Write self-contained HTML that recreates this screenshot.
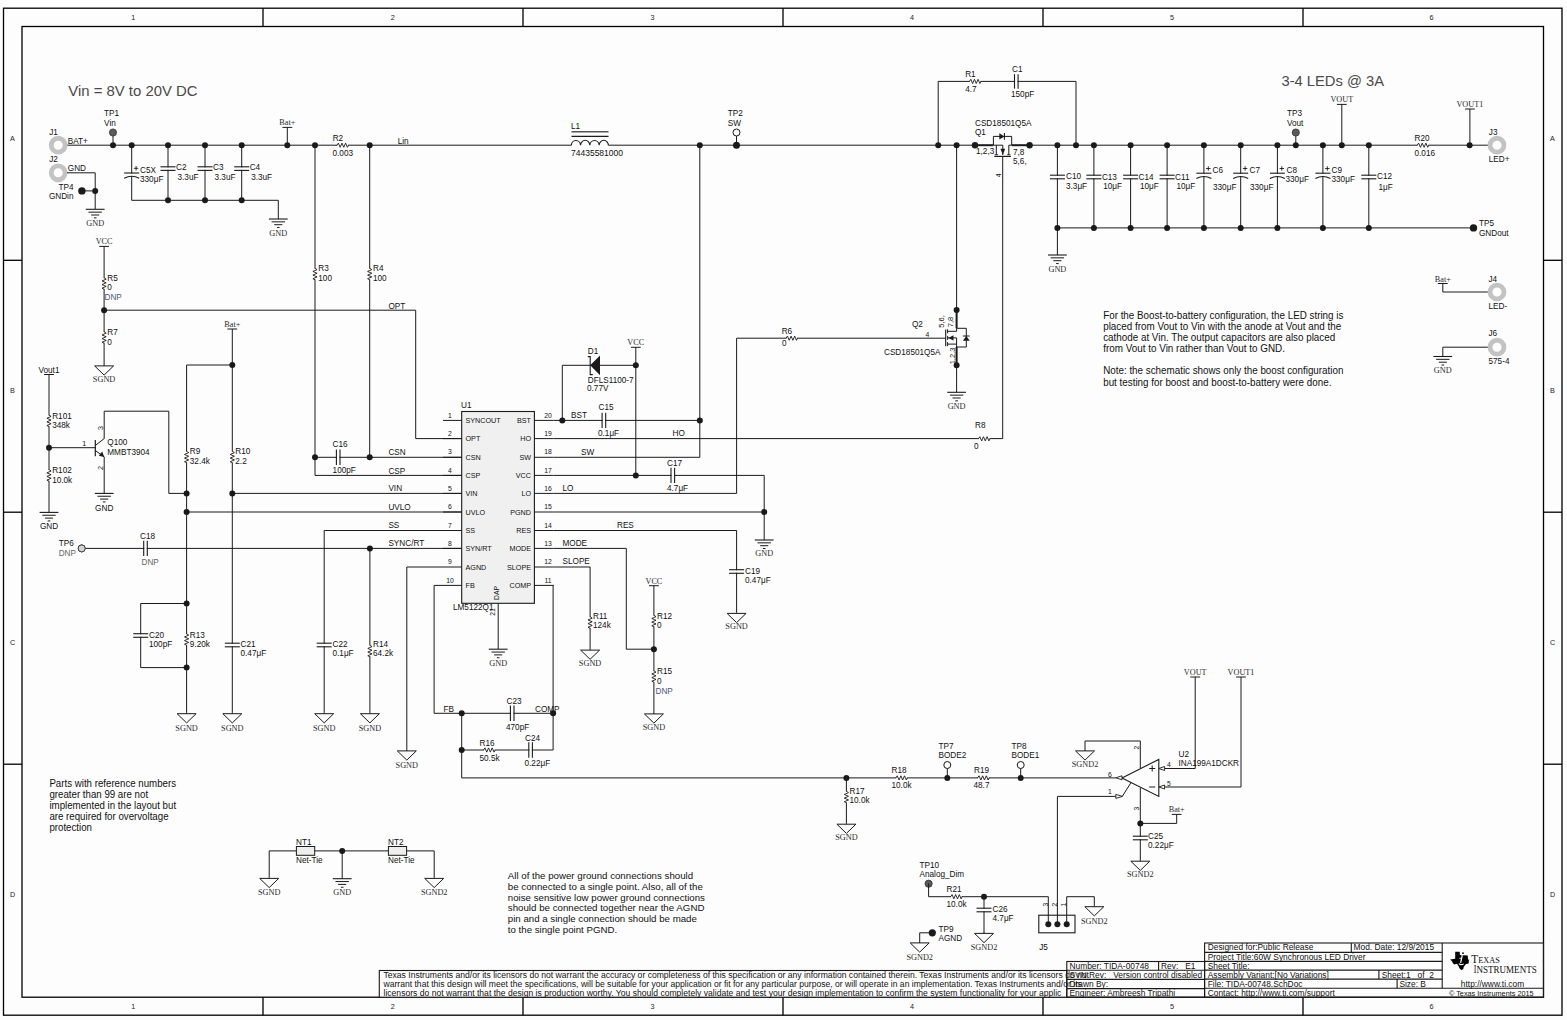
<!DOCTYPE html>
<html><head><meta charset="utf-8"><style>
html,body{margin:0;padding:0;background:#fdfdfd;width:1567px;height:1020px;overflow:hidden}
svg{display:block}
</style></head><body><svg width="1567" height="1020" viewBox="0 0 1567 1020"><rect x="3.5" y="8.2" width="1558.5" height="1007" fill="none" stroke="#000" stroke-width="1.3"/>
<rect x="22" y="26.5" width="1521.5" height="970.7" fill="none" stroke="#000" stroke-width="1.3"/>
<line x1="263" y1="8.2" x2="263" y2="26.5" stroke="#000" stroke-width="1.3"/>
<line x1="263" y1="997.2" x2="263" y2="1015.2" stroke="#000" stroke-width="1.3"/>
<line x1="523" y1="8.2" x2="523" y2="26.5" stroke="#000" stroke-width="1.3"/>
<line x1="523" y1="997.2" x2="523" y2="1015.2" stroke="#000" stroke-width="1.3"/>
<line x1="783" y1="8.2" x2="783" y2="26.5" stroke="#000" stroke-width="1.3"/>
<line x1="783" y1="997.2" x2="783" y2="1015.2" stroke="#000" stroke-width="1.3"/>
<line x1="1043" y1="8.2" x2="1043" y2="26.5" stroke="#000" stroke-width="1.3"/>
<line x1="1043" y1="997.2" x2="1043" y2="1015.2" stroke="#000" stroke-width="1.3"/>
<line x1="1303" y1="8.2" x2="1303" y2="26.5" stroke="#000" stroke-width="1.3"/>
<line x1="1303" y1="997.2" x2="1303" y2="1015.2" stroke="#000" stroke-width="1.3"/>
<line x1="3.5" y1="260.3" x2="22" y2="260.3" stroke="#000" stroke-width="1.3"/>
<line x1="1543.5" y1="260.3" x2="1562" y2="260.3" stroke="#000" stroke-width="1.3"/>
<line x1="3.5" y1="512.2" x2="22" y2="512.2" stroke="#000" stroke-width="1.3"/>
<line x1="1543.5" y1="512.2" x2="1562" y2="512.2" stroke="#000" stroke-width="1.3"/>
<line x1="3.5" y1="764.2" x2="22" y2="764.2" stroke="#000" stroke-width="1.3"/>
<line x1="1543.5" y1="764.2" x2="1562" y2="764.2" stroke="#000" stroke-width="1.3"/>
<text x="133.3" y="19.86" font-size="7.2" text-anchor="middle" fill="#222" font-family='"Liberation Sans", sans-serif' style="white-space:pre">1</text>
<text x="133.3" y="1008.76" font-size="7.2" text-anchor="middle" fill="#222" font-family='"Liberation Sans", sans-serif' style="white-space:pre">1</text>
<text x="392.7" y="19.86" font-size="7.2" text-anchor="middle" fill="#222" font-family='"Liberation Sans", sans-serif' style="white-space:pre">2</text>
<text x="392.7" y="1008.76" font-size="7.2" text-anchor="middle" fill="#222" font-family='"Liberation Sans", sans-serif' style="white-space:pre">2</text>
<text x="652.5" y="19.86" font-size="7.2" text-anchor="middle" fill="#222" font-family='"Liberation Sans", sans-serif' style="white-space:pre">3</text>
<text x="652.5" y="1008.76" font-size="7.2" text-anchor="middle" fill="#222" font-family='"Liberation Sans", sans-serif' style="white-space:pre">3</text>
<text x="912" y="19.86" font-size="7.2" text-anchor="middle" fill="#222" font-family='"Liberation Sans", sans-serif' style="white-space:pre">4</text>
<text x="912" y="1008.76" font-size="7.2" text-anchor="middle" fill="#222" font-family='"Liberation Sans", sans-serif' style="white-space:pre">4</text>
<text x="1172" y="19.86" font-size="7.2" text-anchor="middle" fill="#222" font-family='"Liberation Sans", sans-serif' style="white-space:pre">5</text>
<text x="1172" y="1008.76" font-size="7.2" text-anchor="middle" fill="#222" font-family='"Liberation Sans", sans-serif' style="white-space:pre">5</text>
<text x="1431.5" y="19.86" font-size="7.2" text-anchor="middle" fill="#222" font-family='"Liberation Sans", sans-serif' style="white-space:pre">6</text>
<text x="1431.5" y="1008.76" font-size="7.2" text-anchor="middle" fill="#222" font-family='"Liberation Sans", sans-serif' style="white-space:pre">6</text>
<text x="12.5" y="141.06" font-size="7.2" text-anchor="middle" fill="#222" font-family='"Liberation Sans", sans-serif' style="white-space:pre">A</text>
<text x="1552.5" y="141.06" font-size="7.2" text-anchor="middle" fill="#222" font-family='"Liberation Sans", sans-serif' style="white-space:pre">A</text>
<text x="12.5" y="393.06" font-size="7.2" text-anchor="middle" fill="#222" font-family='"Liberation Sans", sans-serif' style="white-space:pre">B</text>
<text x="1552.5" y="393.06" font-size="7.2" text-anchor="middle" fill="#222" font-family='"Liberation Sans", sans-serif' style="white-space:pre">B</text>
<text x="12.5" y="645.06" font-size="7.2" text-anchor="middle" fill="#222" font-family='"Liberation Sans", sans-serif' style="white-space:pre">C</text>
<text x="1552.5" y="645.06" font-size="7.2" text-anchor="middle" fill="#222" font-family='"Liberation Sans", sans-serif' style="white-space:pre">C</text>
<text x="12.5" y="897.06" font-size="7.2" text-anchor="middle" fill="#222" font-family='"Liberation Sans", sans-serif' style="white-space:pre">D</text>
<text x="1552.5" y="897.06" font-size="7.2" text-anchor="middle" fill="#222" font-family='"Liberation Sans", sans-serif' style="white-space:pre">D</text>
<line x1="67" y1="145.2" x2="571.3" y2="145.2" stroke="#1a1a1a" stroke-width="1"/>
<line x1="608.4" y1="145.2" x2="938.2" y2="145.2" stroke="#1a1a1a" stroke-width="1"/>
<line x1="938.2" y1="145.2" x2="975" y2="145.2" stroke="#1a1a1a" stroke-width="1"/>
<circle cx="58.2" cy="145.2" r="6.95" fill="none" stroke="#c3c3c3" stroke-width="4.8"/>
<circle cx="58.2" cy="172.8" r="6.95" fill="none" stroke="#c3c3c3" stroke-width="4.8"/>
<text x="49.2" y="134.91" font-size="8.2" text-anchor="start" fill="#111" font-family='"Liberation Sans", sans-serif' style="white-space:pre">J1</text>
<text x="67.8" y="144.31" font-size="8.2" text-anchor="start" fill="#111" font-family='"Liberation Sans", sans-serif' style="white-space:pre">BAT+</text>
<text x="49.2" y="162.41" font-size="8.2" text-anchor="start" fill="#111" font-family='"Liberation Sans", sans-serif' style="white-space:pre">J2</text>
<text x="67.8" y="171.11" font-size="8.2" text-anchor="start" fill="#111" font-family='"Liberation Sans", sans-serif' style="white-space:pre">GND</text>
<polyline points="67,172.8 95.2,172.8 95.2,209.3" fill="none" stroke="#1a1a1a" stroke-width="1" stroke-linejoin="miter"/>
<circle cx="95.2" cy="190.9" r="3" fill="#1a1a1a"/>
<line x1="82" y1="190.9" x2="95.2" y2="190.9" stroke="#1a1a1a" stroke-width="1"/>
<circle cx="81.9" cy="190.9" r="3.7" fill="#1a1a1a"/>
<text x="73.5" y="189.71" font-size="8.2" text-anchor="end" fill="#111" font-family='"Liberation Sans", sans-serif' style="white-space:pre">TP4</text>
<text x="73.5" y="198.91" font-size="8.2" text-anchor="end" fill="#111" font-family='"Liberation Sans", sans-serif' style="white-space:pre">GNDin</text>
<line x1="85.8" y1="209.3" x2="104.6" y2="209.3" stroke="#1a1a1a" stroke-width="1.1"/>
<line x1="88.5" y1="212.15" x2="101.9" y2="212.15" stroke="#1a1a1a" stroke-width="1"/>
<line x1="91.15" y1="215" x2="99.25" y2="215" stroke="#1a1a1a" stroke-width="1"/>
<line x1="93.9" y1="217.85" x2="96.5" y2="217.85" stroke="#1a1a1a" stroke-width="1"/>
<text x="95.2" y="225.93" font-size="8.25" text-anchor="middle" fill="#2a2a2a" font-family='"Liberation Serif", serif' style="white-space:pre">GND</text>
<line x1="113" y1="132.5" x2="113" y2="145.2" stroke="#1a1a1a" stroke-width="1"/>
<circle cx="113" cy="132.5" r="3.6" fill="#5a5a5a" stroke="#333" stroke-width="0.8"/>
<circle cx="113" cy="145.2" r="3" fill="#1a1a1a"/>
<text x="104.1" y="116.21" font-size="8.2" text-anchor="start" fill="#111" font-family='"Liberation Sans", sans-serif' style="white-space:pre">TP1</text>
<text x="104.1" y="126.21" font-size="8.2" text-anchor="start" fill="#111" font-family='"Liberation Sans", sans-serif' style="white-space:pre">Vin</text>
<circle cx="131.7" cy="145.2" r="3" fill="#1a1a1a"/>
<circle cx="168" cy="145.2" r="3" fill="#1a1a1a"/>
<circle cx="205" cy="145.2" r="3" fill="#1a1a1a"/>
<circle cx="241.7" cy="145.2" r="3" fill="#1a1a1a"/>
<line x1="131.7" y1="145.2" x2="131.7" y2="200.3" stroke="#1a1a1a" stroke-width="1"/>
<polyline points="131.7,200.3 278.3,200.3 278.3,219" fill="none" stroke="#1a1a1a" stroke-width="1" stroke-linejoin="miter"/>
<rect x="130.2" y="173.7" width="3" height="2.6" fill="#fdfdfd"/>
<line x1="124.2" y1="173" x2="139.2" y2="173" stroke="#1a1a1a" stroke-width="1.1"/>
<path d="M124.2,178.3 Q131.7,174.3 139.2,178.3" fill="none" stroke="#1a1a1a" stroke-width="1.1"/>
<line x1="133.9" y1="168.3" x2="138.3" y2="168.3" stroke="#1a1a1a" stroke-width="0.9"/>
<line x1="136.1" y1="166.1" x2="136.1" y2="170.5" stroke="#1a1a1a" stroke-width="0.9"/>
<text x="140" y="173.41" font-size="8.2" text-anchor="start" fill="#111" font-family='"Liberation Sans", sans-serif' style="white-space:pre">C5X</text>
<text x="140" y="182.41" font-size="8.2" text-anchor="start" fill="#111" font-family='"Liberation Sans", sans-serif' style="white-space:pre">330μF</text>
<line x1="168" y1="145.2" x2="168" y2="200.3" stroke="#1a1a1a" stroke-width="1"/>
<rect x="166.5" y="167.4" width="3" height="2.4" fill="#fdfdfd"/>
<line x1="160.5" y1="166.8" x2="175.5" y2="166.8" stroke="#1a1a1a" stroke-width="1.1"/>
<line x1="160.5" y1="170.4" x2="175.5" y2="170.4" stroke="#1a1a1a" stroke-width="1.1"/>
<circle cx="168" cy="200.3" r="3" fill="#1a1a1a"/>
<text x="176" y="170.21" font-size="8.2" text-anchor="start" fill="#111" font-family='"Liberation Sans", sans-serif' style="white-space:pre">C2</text>
<text x="177.5" y="180.21" font-size="8.2" text-anchor="start" fill="#111" font-family='"Liberation Sans", sans-serif' style="white-space:pre">3.3uF</text>
<line x1="205" y1="145.2" x2="205" y2="200.3" stroke="#1a1a1a" stroke-width="1"/>
<rect x="203.5" y="167.4" width="3" height="2.4" fill="#fdfdfd"/>
<line x1="197.5" y1="166.8" x2="212.5" y2="166.8" stroke="#1a1a1a" stroke-width="1.1"/>
<line x1="197.5" y1="170.4" x2="212.5" y2="170.4" stroke="#1a1a1a" stroke-width="1.1"/>
<circle cx="205" cy="200.3" r="3" fill="#1a1a1a"/>
<text x="213" y="170.21" font-size="8.2" text-anchor="start" fill="#111" font-family='"Liberation Sans", sans-serif' style="white-space:pre">C3</text>
<text x="214.5" y="180.21" font-size="8.2" text-anchor="start" fill="#111" font-family='"Liberation Sans", sans-serif' style="white-space:pre">3.3uF</text>
<line x1="241.7" y1="145.2" x2="241.7" y2="200.3" stroke="#1a1a1a" stroke-width="1"/>
<rect x="240.2" y="167.4" width="3" height="2.4" fill="#fdfdfd"/>
<line x1="234.2" y1="166.8" x2="249.2" y2="166.8" stroke="#1a1a1a" stroke-width="1.1"/>
<line x1="234.2" y1="170.4" x2="249.2" y2="170.4" stroke="#1a1a1a" stroke-width="1.1"/>
<circle cx="241.7" cy="200.3" r="3" fill="#1a1a1a"/>
<text x="249.7" y="170.21" font-size="8.2" text-anchor="start" fill="#111" font-family='"Liberation Sans", sans-serif' style="white-space:pre">C4</text>
<text x="251.2" y="180.21" font-size="8.2" text-anchor="start" fill="#111" font-family='"Liberation Sans", sans-serif' style="white-space:pre">3.3uF</text>
<line x1="268.9" y1="219" x2="287.7" y2="219" stroke="#1a1a1a" stroke-width="1.1"/>
<line x1="271.6" y1="221.85" x2="285" y2="221.85" stroke="#1a1a1a" stroke-width="1"/>
<line x1="274.25" y1="224.7" x2="282.35" y2="224.7" stroke="#1a1a1a" stroke-width="1"/>
<line x1="277" y1="227.55" x2="279.6" y2="227.55" stroke="#1a1a1a" stroke-width="1"/>
<text x="278.3" y="235.93" font-size="8.25" text-anchor="middle" fill="#2a2a2a" font-family='"Liberation Serif", serif' style="white-space:pre">GND</text>
<line x1="287.3" y1="127.4" x2="287.3" y2="145.2" stroke="#1a1a1a" stroke-width="1"/>
<line x1="282.4" y1="127.4" x2="292.2" y2="127.4" stroke="#1a1a1a" stroke-width="1"/>
<text x="287.3" y="125.45" font-size="8.8" text-anchor="middle" fill="#2a2a2a" font-family='"Liberation Serif", serif' style="white-space:pre" textLength="16.01" lengthAdjust="spacingAndGlyphs">Bat+</text>
<circle cx="287.3" cy="145.2" r="3" fill="#1a1a1a"/>
<circle cx="315" cy="145.2" r="3" fill="#1a1a1a"/>
<circle cx="369.7" cy="145.2" r="3" fill="#1a1a1a"/>
<rect x="337.35" y="143.6" width="10.7" height="3.2" fill="#fdfdfd"/>
<polyline points="336.95,145.2 338.33,143.1 340.15,147.3 341.96,143.1 343.78,147.3 345.6,143.1 347.41,147.3 348.45,145.2" fill="none" stroke="#1a1a1a" stroke-width="0.9" stroke-linejoin="round"/>
<text x="332.7" y="140.61" font-size="8.2" text-anchor="start" fill="#111" font-family='"Liberation Sans", sans-serif' style="white-space:pre">R2</text>
<text x="332.5" y="155.91" font-size="8.2" text-anchor="start" fill="#111" font-family='"Liberation Sans", sans-serif' style="white-space:pre">0.003</text>
<text x="397.7" y="143.91" font-size="8.2" text-anchor="start" fill="#111" font-family='"Liberation Sans", sans-serif' style="white-space:pre">Lin</text>
<line x1="315" y1="145.2" x2="315" y2="475.4" stroke="#1a1a1a" stroke-width="1"/>
<line x1="369.7" y1="145.2" x2="369.7" y2="457.3" stroke="#1a1a1a" stroke-width="1"/>
<rect x="313.4" y="268.65" width="3.2" height="10.7" fill="#fdfdfd"/>
<polyline points="315,268.25 317.1,269.63 312.9,271.45 317.1,273.26 312.9,275.08 317.1,276.9 312.9,278.71 315,279.75" fill="none" stroke="#1a1a1a" stroke-width="0.9" stroke-linejoin="round"/>
<rect x="368.1" y="268.65" width="3.2" height="10.7" fill="#fdfdfd"/>
<polyline points="369.7,268.25 371.8,269.63 367.6,271.45 371.8,273.26 367.6,275.08 371.8,276.9 367.6,278.71 369.7,279.75" fill="none" stroke="#1a1a1a" stroke-width="0.9" stroke-linejoin="round"/>
<text x="318.3" y="270.91" font-size="8.2" text-anchor="start" fill="#111" font-family='"Liberation Sans", sans-serif' style="white-space:pre">R3</text>
<text x="318.3" y="280.61" font-size="8.2" text-anchor="start" fill="#111" font-family='"Liberation Sans", sans-serif' style="white-space:pre">100</text>
<text x="373" y="270.91" font-size="8.2" text-anchor="start" fill="#111" font-family='"Liberation Sans", sans-serif' style="white-space:pre">R4</text>
<text x="373" y="280.61" font-size="8.2" text-anchor="start" fill="#111" font-family='"Liberation Sans", sans-serif' style="white-space:pre">100</text>
<circle cx="315" cy="457.3" r="3" fill="#1a1a1a"/>
<circle cx="369.7" cy="457.3" r="3" fill="#1a1a1a"/>
<line x1="315" y1="457.3" x2="369.7" y2="457.3" stroke="#1a1a1a" stroke-width="1"/>
<rect x="337" y="455.8" width="2.4" height="3" fill="#fdfdfd"/>
<line x1="336.4" y1="449.6" x2="336.4" y2="465" stroke="#1a1a1a" stroke-width="1.1"/>
<line x1="340" y1="449.6" x2="340" y2="465" stroke="#1a1a1a" stroke-width="1.1"/>
<text x="332.6" y="446.91" font-size="8.2" text-anchor="start" fill="#111" font-family='"Liberation Sans", sans-serif' style="white-space:pre">C16</text>
<text x="332.6" y="472.91" font-size="8.2" text-anchor="start" fill="#111" font-family='"Liberation Sans", sans-serif' style="white-space:pre">100pF</text>
<line x1="369.7" y1="457.3" x2="461.7" y2="457.3" stroke="#1a1a1a" stroke-width="1"/>
<line x1="315" y1="475.4" x2="461.7" y2="475.4" stroke="#1a1a1a" stroke-width="1"/>
<line x1="104.1" y1="246.4" x2="104.1" y2="365" stroke="#1a1a1a" stroke-width="1"/>
<line x1="99.2" y1="246.4" x2="109" y2="246.4" stroke="#1a1a1a" stroke-width="1"/>
<text x="104.1" y="244.45" font-size="8.8" text-anchor="middle" fill="#2a2a2a" font-family='"Liberation Serif", serif' style="white-space:pre" textLength="16.86" lengthAdjust="spacingAndGlyphs">VCC</text>
<rect x="102.5" y="278.15" width="3.2" height="10.7" fill="#fdfdfd"/>
<polyline points="104.1,277.75 106.2,279.13 102,280.95 106.2,282.76 102,284.58 106.2,286.4 102,288.21 104.1,289.25" fill="none" stroke="#1a1a1a" stroke-width="0.9" stroke-linejoin="round"/>
<text x="107.3" y="281.21" font-size="8.2" text-anchor="start" fill="#111" font-family='"Liberation Sans", sans-serif' style="white-space:pre">R5</text>
<text x="107.3" y="290.41" font-size="8.2" text-anchor="start" fill="#111" font-family='"Liberation Sans", sans-serif' style="white-space:pre">0</text>
<text x="104.5" y="299.91" font-size="8.2" text-anchor="start" fill="#4a5a7a" font-family='"Liberation Sans", sans-serif' style="white-space:pre">DNP</text>
<circle cx="104.1" cy="310.2" r="3" fill="#1a1a1a"/>
<polyline points="104.1,310.2 415.7,310.2 415.7,438.6 461.7,438.6" fill="none" stroke="#1a1a1a" stroke-width="1" stroke-linejoin="miter"/>
<rect x="102.5" y="332.15" width="3.2" height="10.7" fill="#fdfdfd"/>
<polyline points="104.1,331.75 106.2,333.13 102,334.95 106.2,336.76 102,338.58 106.2,340.4 102,342.21 104.1,343.25" fill="none" stroke="#1a1a1a" stroke-width="0.9" stroke-linejoin="round"/>
<text x="107.3" y="335.11" font-size="8.2" text-anchor="start" fill="#111" font-family='"Liberation Sans", sans-serif' style="white-space:pre">R7</text>
<text x="107.3" y="345.11" font-size="8.2" text-anchor="start" fill="#111" font-family='"Liberation Sans", sans-serif' style="white-space:pre">0</text>
<line x1="104.1" y1="365" x2="104.1" y2="366" stroke="#1a1a1a" stroke-width="1"/>
<polygon points="94.6,365.9 113.6,365.9 104.1,375.1" fill="none" stroke="#1a1a1a" stroke-width="1"/>
<text x="104.1" y="381.93" font-size="8.25" text-anchor="middle" fill="#2a2a2a" font-family='"Liberation Serif", serif' style="white-space:pre">SGND</text>
<text x="388.4" y="308.91" font-size="8.2" text-anchor="start" fill="#111" font-family='"Liberation Sans", sans-serif' style="white-space:pre">OPT</text>
<line x1="49" y1="374.5" x2="49" y2="512.4" stroke="#1a1a1a" stroke-width="1"/>
<line x1="44.1" y1="374.5" x2="53.9" y2="374.5" stroke="#1a1a1a" stroke-width="1"/>
<text x="49" y="372.6" font-size="8.2" text-anchor="middle" fill="#111" font-family='"Liberation Sans", sans-serif' style="white-space:pre" textLength="20.91" lengthAdjust="spacingAndGlyphs">Vout1</text>
<rect x="47.4" y="415.45" width="3.2" height="10.7" fill="#fdfdfd"/>
<polyline points="49,415.05 51.1,416.43 46.9,418.25 51.1,420.06 46.9,421.88 51.1,423.7 46.9,425.51 49,426.55" fill="none" stroke="#1a1a1a" stroke-width="0.9" stroke-linejoin="round"/>
<text x="52.2" y="418.91" font-size="8.2" text-anchor="start" fill="#111" font-family='"Liberation Sans", sans-serif' style="white-space:pre">R101</text>
<text x="52.2" y="428.41" font-size="8.2" text-anchor="start" fill="#111" font-family='"Liberation Sans", sans-serif' style="white-space:pre">348k</text>
<circle cx="49" cy="447.7" r="3" fill="#1a1a1a"/>
<line x1="49" y1="447.7" x2="95.3" y2="447.7" stroke="#1a1a1a" stroke-width="1"/>
<text x="82.3" y="446.06" font-size="7.2" text-anchor="start" fill="#111" font-family='"Liberation Sans", sans-serif' style="white-space:pre">1</text>
<rect x="47.4" y="470.05" width="3.2" height="10.7" fill="#fdfdfd"/>
<polyline points="49,469.65 51.1,471.03 46.9,472.85 51.1,474.66 46.9,476.48 51.1,478.3 46.9,480.11 49,481.15" fill="none" stroke="#1a1a1a" stroke-width="0.9" stroke-linejoin="round"/>
<text x="52.2" y="473.41" font-size="8.2" text-anchor="start" fill="#111" font-family='"Liberation Sans", sans-serif' style="white-space:pre">R102</text>
<text x="52.2" y="482.91" font-size="8.2" text-anchor="start" fill="#111" font-family='"Liberation Sans", sans-serif' style="white-space:pre">10.0k</text>
<line x1="39.6" y1="512.4" x2="58.4" y2="512.4" stroke="#1a1a1a" stroke-width="1.1"/>
<line x1="42.3" y1="515.25" x2="55.7" y2="515.25" stroke="#1a1a1a" stroke-width="1"/>
<line x1="44.95" y1="518.1" x2="53.05" y2="518.1" stroke="#1a1a1a" stroke-width="1"/>
<line x1="47.7" y1="520.95" x2="50.3" y2="520.95" stroke="#1a1a1a" stroke-width="1"/>
<text x="49" y="528.91" font-size="8.2" text-anchor="middle" fill="#111" font-family='"Liberation Sans", sans-serif' style="white-space:pre">GND</text>
<line x1="95.3" y1="440" x2="95.3" y2="456.2" stroke="#1a1a1a" stroke-width="1.2"/>
<polyline points="95.3,445.5 104.2,438.6 104.2,411.2 168.8,411.2 168.8,493.4 186.6,493.4" fill="none" stroke="#1a1a1a" stroke-width="1" stroke-linejoin="miter"/>
<polyline points="95.3,450.5 104.2,456.9 104.2,493.4" fill="none" stroke="#1a1a1a" stroke-width="1" stroke-linejoin="miter"/>
<polygon points="104.2,456.9 98.8,455.8 102.2,451.6" fill="#1a1a1a"/>
<text x="100" y="430.56" font-size="7.2" text-anchor="middle" fill="#111" font-family='"Liberation Sans", sans-serif' style="white-space:pre" transform="rotate(-90 100 428)">3</text>
<text x="100" y="470.56" font-size="7.2" text-anchor="middle" fill="#111" font-family='"Liberation Sans", sans-serif' style="white-space:pre" transform="rotate(-90 100 468)">2</text>
<text x="107.3" y="445.21" font-size="8.2" text-anchor="start" fill="#111" font-family='"Liberation Sans", sans-serif' style="white-space:pre">Q100</text>
<text x="107.3" y="454.91" font-size="8.2" text-anchor="start" fill="#111" font-family='"Liberation Sans", sans-serif' style="white-space:pre">MMBT3904</text>
<line x1="94.8" y1="493.4" x2="113.6" y2="493.4" stroke="#1a1a1a" stroke-width="1.1"/>
<line x1="97.5" y1="496.25" x2="110.9" y2="496.25" stroke="#1a1a1a" stroke-width="1"/>
<line x1="100.15" y1="499.1" x2="108.25" y2="499.1" stroke="#1a1a1a" stroke-width="1"/>
<line x1="102.9" y1="501.95" x2="105.5" y2="501.95" stroke="#1a1a1a" stroke-width="1"/>
<text x="104.2" y="510.91" font-size="8.2" text-anchor="middle" fill="#111" font-family='"Liberation Sans", sans-serif' style="white-space:pre">GND</text>
<line x1="227.4" y1="329" x2="237.2" y2="329" stroke="#1a1a1a" stroke-width="1"/>
<text x="232.3" y="327.05" font-size="8.8" text-anchor="middle" fill="#2a2a2a" font-family='"Liberation Serif", serif' style="white-space:pre" textLength="16.01" lengthAdjust="spacingAndGlyphs">Bat+</text>
<line x1="232.3" y1="329" x2="232.3" y2="712.8" stroke="#1a1a1a" stroke-width="1"/>
<circle cx="232.3" cy="365" r="3" fill="#1a1a1a"/>
<polyline points="232.3,365 186.6,365 186.6,712.8" fill="none" stroke="#1a1a1a" stroke-width="1" stroke-linejoin="miter"/>
<rect x="185" y="451.65" width="3.2" height="10.7" fill="#fdfdfd"/>
<polyline points="186.6,451.25 188.7,452.63 184.5,454.45 188.7,456.26 184.5,458.08 188.7,459.9 184.5,461.71 186.6,462.75" fill="none" stroke="#1a1a1a" stroke-width="0.9" stroke-linejoin="round"/>
<rect x="230.7" y="451.65" width="3.2" height="10.7" fill="#fdfdfd"/>
<polyline points="232.3,451.25 234.4,452.63 230.2,454.45 234.4,456.26 230.2,458.08 234.4,459.9 230.2,461.71 232.3,462.75" fill="none" stroke="#1a1a1a" stroke-width="0.9" stroke-linejoin="round"/>
<text x="189.8" y="454.41" font-size="8.2" text-anchor="start" fill="#111" font-family='"Liberation Sans", sans-serif' style="white-space:pre">R9</text>
<text x="189.8" y="463.91" font-size="8.2" text-anchor="start" fill="#111" font-family='"Liberation Sans", sans-serif' style="white-space:pre">32.4k</text>
<text x="235.3" y="454.41" font-size="8.2" text-anchor="start" fill="#111" font-family='"Liberation Sans", sans-serif' style="white-space:pre">R10</text>
<text x="235.3" y="463.91" font-size="8.2" text-anchor="start" fill="#111" font-family='"Liberation Sans", sans-serif' style="white-space:pre">2.2</text>
<circle cx="186.6" cy="493.4" r="3" fill="#1a1a1a"/>
<circle cx="232.3" cy="493.4" r="3" fill="#1a1a1a"/>
<circle cx="186.6" cy="512" r="3" fill="#1a1a1a"/>
<line x1="232.3" y1="493.4" x2="461.7" y2="493.4" stroke="#1a1a1a" stroke-width="1"/>
<line x1="186.6" y1="512" x2="461.7" y2="512" stroke="#1a1a1a" stroke-width="1"/>
<text x="388.4" y="491.41" font-size="8.2" text-anchor="start" fill="#111" font-family='"Liberation Sans", sans-serif' style="white-space:pre">VIN</text>
<text x="388.4" y="509.91" font-size="8.2" text-anchor="start" fill="#111" font-family='"Liberation Sans", sans-serif' style="white-space:pre">UVLO</text>
<text x="388.4" y="473.61" font-size="8.2" text-anchor="start" fill="#111" font-family='"Liberation Sans", sans-serif' style="white-space:pre">CSP</text>
<text x="388.4" y="454.61" font-size="8.2" text-anchor="start" fill="#111" font-family='"Liberation Sans", sans-serif' style="white-space:pre">CSN</text>
<polyline points="324.2,712.8 324.2,530.5 461.7,530.5" fill="none" stroke="#1a1a1a" stroke-width="1" stroke-linejoin="miter"/>
<text x="388.4" y="528.41" font-size="8.2" text-anchor="start" fill="#111" font-family='"Liberation Sans", sans-serif' style="white-space:pre">SS</text>
<line x1="85.3" y1="548.4" x2="461.7" y2="548.4" stroke="#1a1a1a" stroke-width="1"/>
<circle cx="81.7" cy="548.4" r="3.5" fill="#fdfdfd" stroke="#1a1a1a" stroke-width="1"/>
<circle cx="81.7" cy="548.4" r="3.5" fill="#d4d4d4" stroke="#333" stroke-width="0.9"/>
<text x="58.7" y="546.41" font-size="8.2" text-anchor="start" fill="#111" font-family='"Liberation Sans", sans-serif' style="white-space:pre">TP6</text>
<text x="58.7" y="555.91" font-size="8.2" text-anchor="start" fill="#666" font-family='"Liberation Sans", sans-serif' style="white-space:pre">DNP</text>
<rect x="144.3" y="546.9" width="2.4" height="3" fill="#fdfdfd"/>
<line x1="143.7" y1="540.7" x2="143.7" y2="556.1" stroke="#1a1a1a" stroke-width="1.1"/>
<line x1="147.3" y1="540.7" x2="147.3" y2="556.1" stroke="#1a1a1a" stroke-width="1.1"/>
<text x="140" y="539.41" font-size="8.2" text-anchor="start" fill="#111" font-family='"Liberation Sans", sans-serif' style="white-space:pre">C18</text>
<text x="141.5" y="564.91" font-size="8.2" text-anchor="start" fill="#666" font-family='"Liberation Sans", sans-serif' style="white-space:pre">DNP</text>
<circle cx="369.9" cy="548.4" r="3" fill="#1a1a1a"/>
<line x1="369.9" y1="548.4" x2="369.9" y2="712.8" stroke="#1a1a1a" stroke-width="1"/>
<text x="388.4" y="546.41" font-size="8.2" text-anchor="start" fill="#111" font-family='"Liberation Sans", sans-serif' style="white-space:pre">SYNC/RT</text>
<circle cx="186.6" cy="603.5" r="3" fill="#1a1a1a"/>
<circle cx="186.6" cy="667.6" r="3" fill="#1a1a1a"/>
<polyline points="186.6,603.5 140.7,603.5 140.7,667.6 186.6,667.6" fill="none" stroke="#1a1a1a" stroke-width="1" stroke-linejoin="miter"/>
<rect x="139.2" y="634.3" width="3" height="2.4" fill="#fdfdfd"/>
<line x1="133.2" y1="633.7" x2="148.2" y2="633.7" stroke="#1a1a1a" stroke-width="1.1"/>
<line x1="133.2" y1="637.3" x2="148.2" y2="637.3" stroke="#1a1a1a" stroke-width="1.1"/>
<text x="149" y="638.21" font-size="8.2" text-anchor="start" fill="#111" font-family='"Liberation Sans", sans-serif' style="white-space:pre">C20</text>
<text x="149" y="647.21" font-size="8.2" text-anchor="start" fill="#111" font-family='"Liberation Sans", sans-serif' style="white-space:pre">100pF</text>
<rect x="185" y="634.15" width="3.2" height="10.7" fill="#fdfdfd"/>
<polyline points="186.6,633.75 188.7,635.13 184.5,636.95 188.7,638.76 184.5,640.58 188.7,642.4 184.5,644.22 186.6,645.25" fill="none" stroke="#1a1a1a" stroke-width="0.9" stroke-linejoin="round"/>
<text x="189.8" y="638.21" font-size="8.2" text-anchor="start" fill="#111" font-family='"Liberation Sans", sans-serif' style="white-space:pre">R13</text>
<text x="189.8" y="647.21" font-size="8.2" text-anchor="start" fill="#111" font-family='"Liberation Sans", sans-serif' style="white-space:pre">9.20k</text>
<rect x="230.8" y="643.8" width="3" height="2.4" fill="#fdfdfd"/>
<line x1="224.8" y1="643.2" x2="239.8" y2="643.2" stroke="#1a1a1a" stroke-width="1.1"/>
<line x1="224.8" y1="646.8" x2="239.8" y2="646.8" stroke="#1a1a1a" stroke-width="1.1"/>
<text x="240.5" y="647.21" font-size="8.2" text-anchor="start" fill="#111" font-family='"Liberation Sans", sans-serif' style="white-space:pre">C21</text>
<text x="240.5" y="656.21" font-size="8.2" text-anchor="start" fill="#111" font-family='"Liberation Sans", sans-serif' style="white-space:pre">0.47μF</text>
<rect x="322.7" y="643.8" width="3" height="2.4" fill="#fdfdfd"/>
<line x1="316.7" y1="643.2" x2="331.7" y2="643.2" stroke="#1a1a1a" stroke-width="1.1"/>
<line x1="316.7" y1="646.8" x2="331.7" y2="646.8" stroke="#1a1a1a" stroke-width="1.1"/>
<text x="332.5" y="647.21" font-size="8.2" text-anchor="start" fill="#111" font-family='"Liberation Sans", sans-serif' style="white-space:pre">C22</text>
<text x="332.5" y="656.21" font-size="8.2" text-anchor="start" fill="#111" font-family='"Liberation Sans", sans-serif' style="white-space:pre">0.1μF</text>
<rect x="368.3" y="645.65" width="3.2" height="10.7" fill="#fdfdfd"/>
<polyline points="369.9,645.25 372,646.63 367.8,648.45 372,650.26 367.8,652.08 372,653.9 367.8,655.72 369.9,656.75" fill="none" stroke="#1a1a1a" stroke-width="0.9" stroke-linejoin="round"/>
<text x="373" y="647.21" font-size="8.2" text-anchor="start" fill="#111" font-family='"Liberation Sans", sans-serif' style="white-space:pre">R14</text>
<text x="373" y="656.21" font-size="8.2" text-anchor="start" fill="#111" font-family='"Liberation Sans", sans-serif' style="white-space:pre">64.2k</text>
<line x1="186.6" y1="712.8" x2="186.6" y2="713.8" stroke="#1a1a1a" stroke-width="1"/>
<polygon points="177.1,713.7 196.1,713.7 186.6,722.9" fill="none" stroke="#1a1a1a" stroke-width="1"/>
<text x="186.6" y="730.93" font-size="8.25" text-anchor="middle" fill="#2a2a2a" font-family='"Liberation Serif", serif' style="white-space:pre">SGND</text>
<line x1="232.3" y1="712.8" x2="232.3" y2="713.8" stroke="#1a1a1a" stroke-width="1"/>
<polygon points="222.8,713.7 241.8,713.7 232.3,722.9" fill="none" stroke="#1a1a1a" stroke-width="1"/>
<text x="232.3" y="730.93" font-size="8.25" text-anchor="middle" fill="#2a2a2a" font-family='"Liberation Serif", serif' style="white-space:pre">SGND</text>
<line x1="324.2" y1="712.8" x2="324.2" y2="713.8" stroke="#1a1a1a" stroke-width="1"/>
<polygon points="314.7,713.7 333.7,713.7 324.2,722.9" fill="none" stroke="#1a1a1a" stroke-width="1"/>
<text x="324.2" y="730.93" font-size="8.25" text-anchor="middle" fill="#2a2a2a" font-family='"Liberation Serif", serif' style="white-space:pre">SGND</text>
<line x1="369.9" y1="712.8" x2="369.9" y2="713.8" stroke="#1a1a1a" stroke-width="1"/>
<polygon points="360.4,713.7 379.4,713.7 369.9,722.9" fill="none" stroke="#1a1a1a" stroke-width="1"/>
<text x="369.9" y="730.93" font-size="8.25" text-anchor="middle" fill="#2a2a2a" font-family='"Liberation Serif", serif' style="white-space:pre">SGND</text>
<rect x="461.7" y="411.5" width="72.7" height="191.8" fill="#f0f0f0" stroke="#1a1a1a" stroke-width="1.1"/>
<text x="461" y="408.41" font-size="8.2" text-anchor="start" fill="#111" font-family='"Liberation Sans", sans-serif' style="white-space:pre">U1</text>
<line x1="443" y1="420.4" x2="461.7" y2="420.4" stroke="#1a1a1a" stroke-width="1"/>
<line x1="534.4" y1="420.4" x2="553.6" y2="420.4" stroke="#1a1a1a" stroke-width="1"/>
<text x="465.5" y="423.26" font-size="7.2" text-anchor="start" fill="#111" font-family='"Liberation Sans", sans-serif' style="white-space:pre">SYNCOUT</text>
<text x="531" y="423.26" font-size="7.2" text-anchor="end" fill="#111" font-family='"Liberation Sans", sans-serif' style="white-space:pre">BST</text>
<text x="450" y="417.51" font-size="6.8" text-anchor="middle" fill="#111" font-family='"Liberation Sans", sans-serif' style="white-space:pre">1</text>
<text x="548" y="417.51" font-size="6.8" text-anchor="middle" fill="#111" font-family='"Liberation Sans", sans-serif' style="white-space:pre">20</text>
<line x1="443" y1="438.6" x2="461.7" y2="438.6" stroke="#1a1a1a" stroke-width="1"/>
<line x1="534.4" y1="438.6" x2="553.6" y2="438.6" stroke="#1a1a1a" stroke-width="1"/>
<text x="465.5" y="441.46" font-size="7.2" text-anchor="start" fill="#111" font-family='"Liberation Sans", sans-serif' style="white-space:pre">OPT</text>
<text x="531" y="441.46" font-size="7.2" text-anchor="end" fill="#111" font-family='"Liberation Sans", sans-serif' style="white-space:pre">HO</text>
<text x="450" y="435.71" font-size="6.8" text-anchor="middle" fill="#111" font-family='"Liberation Sans", sans-serif' style="white-space:pre">2</text>
<text x="548" y="435.71" font-size="6.8" text-anchor="middle" fill="#111" font-family='"Liberation Sans", sans-serif' style="white-space:pre">19</text>
<line x1="443" y1="457.3" x2="461.7" y2="457.3" stroke="#1a1a1a" stroke-width="1"/>
<line x1="534.4" y1="457.3" x2="553.6" y2="457.3" stroke="#1a1a1a" stroke-width="1"/>
<text x="465.5" y="460.16" font-size="7.2" text-anchor="start" fill="#111" font-family='"Liberation Sans", sans-serif' style="white-space:pre">CSN</text>
<text x="531" y="460.16" font-size="7.2" text-anchor="end" fill="#111" font-family='"Liberation Sans", sans-serif' style="white-space:pre">SW</text>
<text x="450" y="454.41" font-size="6.8" text-anchor="middle" fill="#111" font-family='"Liberation Sans", sans-serif' style="white-space:pre">3</text>
<text x="548" y="454.41" font-size="6.8" text-anchor="middle" fill="#111" font-family='"Liberation Sans", sans-serif' style="white-space:pre">18</text>
<line x1="443" y1="475.4" x2="461.7" y2="475.4" stroke="#1a1a1a" stroke-width="1"/>
<line x1="534.4" y1="475.4" x2="553.6" y2="475.4" stroke="#1a1a1a" stroke-width="1"/>
<text x="465.5" y="478.26" font-size="7.2" text-anchor="start" fill="#111" font-family='"Liberation Sans", sans-serif' style="white-space:pre">CSP</text>
<text x="531" y="478.26" font-size="7.2" text-anchor="end" fill="#111" font-family='"Liberation Sans", sans-serif' style="white-space:pre">VCC</text>
<text x="450" y="472.51" font-size="6.8" text-anchor="middle" fill="#111" font-family='"Liberation Sans", sans-serif' style="white-space:pre">4</text>
<text x="548" y="472.51" font-size="6.8" text-anchor="middle" fill="#111" font-family='"Liberation Sans", sans-serif' style="white-space:pre">17</text>
<line x1="443" y1="493.4" x2="461.7" y2="493.4" stroke="#1a1a1a" stroke-width="1"/>
<line x1="534.4" y1="493.4" x2="553.6" y2="493.4" stroke="#1a1a1a" stroke-width="1"/>
<text x="465.5" y="496.26" font-size="7.2" text-anchor="start" fill="#111" font-family='"Liberation Sans", sans-serif' style="white-space:pre">VIN</text>
<text x="531" y="496.26" font-size="7.2" text-anchor="end" fill="#111" font-family='"Liberation Sans", sans-serif' style="white-space:pre">LO</text>
<text x="450" y="490.51" font-size="6.8" text-anchor="middle" fill="#111" font-family='"Liberation Sans", sans-serif' style="white-space:pre">5</text>
<text x="548" y="490.51" font-size="6.8" text-anchor="middle" fill="#111" font-family='"Liberation Sans", sans-serif' style="white-space:pre">16</text>
<line x1="443" y1="512" x2="461.7" y2="512" stroke="#1a1a1a" stroke-width="1"/>
<line x1="534.4" y1="512" x2="553.6" y2="512" stroke="#1a1a1a" stroke-width="1"/>
<text x="465.5" y="514.86" font-size="7.2" text-anchor="start" fill="#111" font-family='"Liberation Sans", sans-serif' style="white-space:pre">UVLO</text>
<text x="531" y="514.86" font-size="7.2" text-anchor="end" fill="#111" font-family='"Liberation Sans", sans-serif' style="white-space:pre">PGND</text>
<text x="450" y="509.11" font-size="6.8" text-anchor="middle" fill="#111" font-family='"Liberation Sans", sans-serif' style="white-space:pre">6</text>
<text x="548" y="509.11" font-size="6.8" text-anchor="middle" fill="#111" font-family='"Liberation Sans", sans-serif' style="white-space:pre">15</text>
<line x1="443" y1="530.5" x2="461.7" y2="530.5" stroke="#1a1a1a" stroke-width="1"/>
<line x1="534.4" y1="530.5" x2="553.6" y2="530.5" stroke="#1a1a1a" stroke-width="1"/>
<text x="465.5" y="533.36" font-size="7.2" text-anchor="start" fill="#111" font-family='"Liberation Sans", sans-serif' style="white-space:pre">SS</text>
<text x="531" y="533.36" font-size="7.2" text-anchor="end" fill="#111" font-family='"Liberation Sans", sans-serif' style="white-space:pre">RES</text>
<text x="450" y="527.61" font-size="6.8" text-anchor="middle" fill="#111" font-family='"Liberation Sans", sans-serif' style="white-space:pre">7</text>
<text x="548" y="527.61" font-size="6.8" text-anchor="middle" fill="#111" font-family='"Liberation Sans", sans-serif' style="white-space:pre">14</text>
<line x1="443" y1="548.4" x2="461.7" y2="548.4" stroke="#1a1a1a" stroke-width="1"/>
<line x1="534.4" y1="548.4" x2="553.6" y2="548.4" stroke="#1a1a1a" stroke-width="1"/>
<text x="465.5" y="551.26" font-size="7.2" text-anchor="start" fill="#111" font-family='"Liberation Sans", sans-serif' style="white-space:pre">SYN/RT</text>
<text x="531" y="551.26" font-size="7.2" text-anchor="end" fill="#111" font-family='"Liberation Sans", sans-serif' style="white-space:pre">MODE</text>
<text x="450" y="545.51" font-size="6.8" text-anchor="middle" fill="#111" font-family='"Liberation Sans", sans-serif' style="white-space:pre">8</text>
<text x="548" y="545.51" font-size="6.8" text-anchor="middle" fill="#111" font-family='"Liberation Sans", sans-serif' style="white-space:pre">13</text>
<line x1="443" y1="567" x2="461.7" y2="567" stroke="#1a1a1a" stroke-width="1"/>
<line x1="534.4" y1="567" x2="553.6" y2="567" stroke="#1a1a1a" stroke-width="1"/>
<text x="465.5" y="569.86" font-size="7.2" text-anchor="start" fill="#111" font-family='"Liberation Sans", sans-serif' style="white-space:pre">AGND</text>
<text x="531" y="569.86" font-size="7.2" text-anchor="end" fill="#111" font-family='"Liberation Sans", sans-serif' style="white-space:pre">SLOPE</text>
<text x="450" y="564.11" font-size="6.8" text-anchor="middle" fill="#111" font-family='"Liberation Sans", sans-serif' style="white-space:pre">9</text>
<text x="548" y="564.11" font-size="6.8" text-anchor="middle" fill="#111" font-family='"Liberation Sans", sans-serif' style="white-space:pre">12</text>
<line x1="443" y1="585.4" x2="461.7" y2="585.4" stroke="#1a1a1a" stroke-width="1"/>
<line x1="534.4" y1="585.4" x2="553.6" y2="585.4" stroke="#1a1a1a" stroke-width="1"/>
<text x="465.5" y="588.26" font-size="7.2" text-anchor="start" fill="#111" font-family='"Liberation Sans", sans-serif' style="white-space:pre">FB</text>
<text x="531" y="588.26" font-size="7.2" text-anchor="end" fill="#111" font-family='"Liberation Sans", sans-serif' style="white-space:pre">COMP</text>
<text x="450" y="582.51" font-size="6.8" text-anchor="middle" fill="#111" font-family='"Liberation Sans", sans-serif' style="white-space:pre">10</text>
<text x="548" y="582.51" font-size="6.8" text-anchor="middle" fill="#111" font-family='"Liberation Sans", sans-serif' style="white-space:pre">11</text>
<text x="453" y="610.41" font-size="8.2" text-anchor="start" fill="#111" font-family='"Liberation Sans", sans-serif' style="white-space:pre">LM5122Q1</text>
<text x="496.5" y="595.41" font-size="6.8" text-anchor="middle" fill="#111" font-family='"Liberation Sans", sans-serif' style="white-space:pre" transform="rotate(-90 496.5 593)">DAP</text>
<text x="492.5" y="614.41" font-size="6.8" text-anchor="middle" fill="#111" font-family='"Liberation Sans", sans-serif' style="white-space:pre" transform="rotate(-90 492.5 612)">21</text>
<line x1="498.2" y1="603.3" x2="498.2" y2="649.2" stroke="#1a1a1a" stroke-width="1"/>
<line x1="488.8" y1="649.2" x2="507.6" y2="649.2" stroke="#1a1a1a" stroke-width="1.1"/>
<line x1="491.5" y1="652.05" x2="504.9" y2="652.05" stroke="#1a1a1a" stroke-width="1"/>
<line x1="494.15" y1="654.9" x2="502.25" y2="654.9" stroke="#1a1a1a" stroke-width="1"/>
<line x1="496.9" y1="657.75" x2="499.5" y2="657.75" stroke="#1a1a1a" stroke-width="1"/>
<text x="498.2" y="665.93" font-size="8.25" text-anchor="middle" fill="#2a2a2a" font-family='"Liberation Serif", serif' style="white-space:pre">GND</text>
<polyline points="443,567 406.8,567 406.8,750" fill="none" stroke="#1a1a1a" stroke-width="1" stroke-linejoin="miter"/>
<line x1="406.8" y1="750" x2="406.8" y2="751" stroke="#1a1a1a" stroke-width="1"/>
<polygon points="397.3,750.9 416.3,750.9 406.8,760.1" fill="none" stroke="#1a1a1a" stroke-width="1"/>
<text x="406.8" y="767.93" font-size="8.25" text-anchor="middle" fill="#2a2a2a" font-family='"Liberation Serif", serif' style="white-space:pre">SGND</text>
<polyline points="443,585.4 434.1,585.4 434.1,713.3 553.1,713.3" fill="none" stroke="#1a1a1a" stroke-width="1" stroke-linejoin="miter"/>
<text x="443.5" y="711.91" font-size="8.2" text-anchor="start" fill="#111" font-family='"Liberation Sans", sans-serif' style="white-space:pre">FB</text>
<text x="535" y="711.91" font-size="8.2" text-anchor="start" fill="#111" font-family='"Liberation Sans", sans-serif' style="white-space:pre">COMP</text>
<circle cx="461.7" cy="713.3" r="3" fill="#1a1a1a"/>
<circle cx="553.1" cy="713.3" r="3" fill="#1a1a1a"/>
<rect x="511" y="711.8" width="2.4" height="3" fill="#fdfdfd"/>
<line x1="510.4" y1="705.6" x2="510.4" y2="721" stroke="#1a1a1a" stroke-width="1.1"/>
<line x1="514" y1="705.6" x2="514" y2="721" stroke="#1a1a1a" stroke-width="1.1"/>
<text x="506.5" y="703.91" font-size="8.2" text-anchor="start" fill="#111" font-family='"Liberation Sans", sans-serif' style="white-space:pre">C23</text>
<text x="506" y="729.91" font-size="8.2" text-anchor="start" fill="#111" font-family='"Liberation Sans", sans-serif' style="white-space:pre">470pF</text>
<polyline points="553.6,585.4 553.1,585.4 553.1,750 461.7,750" fill="none" stroke="#1a1a1a" stroke-width="1" stroke-linejoin="miter"/>
<circle cx="461.7" cy="750" r="3" fill="#1a1a1a"/>
<rect x="483.95" y="748.4" width="10.7" height="3.2" fill="#fdfdfd"/>
<polyline points="483.55,750 484.93,747.9 486.75,752.1 488.56,747.9 490.38,752.1 492.2,747.9 494.01,752.1 495.05,750" fill="none" stroke="#1a1a1a" stroke-width="0.9" stroke-linejoin="round"/>
<rect x="529.4" y="748.5" width="2.4" height="3" fill="#fdfdfd"/>
<line x1="528.8" y1="742.3" x2="528.8" y2="757.7" stroke="#1a1a1a" stroke-width="1.1"/>
<line x1="532.4" y1="742.3" x2="532.4" y2="757.7" stroke="#1a1a1a" stroke-width="1.1"/>
<text x="479.5" y="746.41" font-size="8.2" text-anchor="start" fill="#111" font-family='"Liberation Sans", sans-serif' style="white-space:pre">R16</text>
<text x="479.5" y="761.41" font-size="8.2" text-anchor="start" fill="#111" font-family='"Liberation Sans", sans-serif' style="white-space:pre">50.5k</text>
<text x="525" y="741.41" font-size="8.2" text-anchor="start" fill="#111" font-family='"Liberation Sans", sans-serif' style="white-space:pre">C24</text>
<text x="524.5" y="765.91" font-size="8.2" text-anchor="start" fill="#111" font-family='"Liberation Sans", sans-serif' style="white-space:pre">0.22μF</text>
<polyline points="461.7,713.3 461.7,777.9 1115.8,777.9" fill="none" stroke="#1a1a1a" stroke-width="1" stroke-linejoin="miter"/>
<line x1="553.6" y1="420.4" x2="699.8" y2="420.4" stroke="#1a1a1a" stroke-width="1"/>
<circle cx="562.3" cy="420.4" r="3" fill="#1a1a1a"/>
<circle cx="699.8" cy="420.4" r="3" fill="#1a1a1a"/>
<rect x="602.7" y="418.9" width="2.4" height="3" fill="#fdfdfd"/>
<line x1="602.1" y1="412.7" x2="602.1" y2="428.1" stroke="#1a1a1a" stroke-width="1.1"/>
<line x1="605.7" y1="412.7" x2="605.7" y2="428.1" stroke="#1a1a1a" stroke-width="1.1"/>
<text x="571" y="418.41" font-size="8.2" text-anchor="start" fill="#111" font-family='"Liberation Sans", sans-serif' style="white-space:pre">BST</text>
<text x="598.5" y="410.41" font-size="8.2" text-anchor="start" fill="#111" font-family='"Liberation Sans", sans-serif' style="white-space:pre">C15</text>
<text x="598" y="435.91" font-size="8.2" text-anchor="start" fill="#111" font-family='"Liberation Sans", sans-serif' style="white-space:pre">0.1μF</text>
<polyline points="562.3,420.4 562.3,365.3 635.8,365.3" fill="none" stroke="#1a1a1a" stroke-width="1" stroke-linejoin="miter"/>
<polygon points="590.2,365.3 600,355.6 600,375.2" fill="#1a1a1a"/>
<polyline points="587.8,356.6 590.2,356.6 590.2,374.6 592.8,374.6" fill="none" stroke="#1a1a1a" stroke-width="1.1" stroke-linejoin="miter"/>
<text x="587.8" y="354.41" font-size="8.2" text-anchor="start" fill="#111" font-family='"Liberation Sans", sans-serif' style="white-space:pre">D1</text>
<text x="587.8" y="383.11" font-size="8.2" text-anchor="start" fill="#111" font-family='"Liberation Sans", sans-serif' style="white-space:pre">DFLS1100-7</text>
<text x="587" y="391.41" font-size="8.2" text-anchor="start" fill="#111" font-family='"Liberation Sans", sans-serif' style="white-space:pre">0.77V</text>
<line x1="630.9" y1="347.3" x2="640.7" y2="347.3" stroke="#1a1a1a" stroke-width="1"/>
<text x="635.8" y="345.35" font-size="8.8" text-anchor="middle" fill="#2a2a2a" font-family='"Liberation Serif", serif' style="white-space:pre" textLength="16.86" lengthAdjust="spacingAndGlyphs">VCC</text>
<line x1="635.8" y1="347.3" x2="635.8" y2="475.4" stroke="#1a1a1a" stroke-width="1"/>
<circle cx="635.8" cy="365.3" r="3" fill="#1a1a1a"/>
<circle cx="635.8" cy="475.4" r="3" fill="#1a1a1a"/>
<polyline points="553.6,438.6 1002.7,438.6 1002.7,156.4" fill="none" stroke="#1a1a1a" stroke-width="1" stroke-linejoin="miter"/>
<rect x="978.85" y="437.2" width="10.7" height="3.2" fill="#fdfdfd"/>
<polyline points="978.45,438.8 979.83,436.7 981.65,440.9 983.46,436.7 985.28,440.9 987.1,436.7 988.92,440.9 989.95,438.8" fill="none" stroke="#1a1a1a" stroke-width="0.9" stroke-linejoin="round"/>
<text x="975" y="428.21" font-size="8.2" text-anchor="start" fill="#111" font-family='"Liberation Sans", sans-serif' style="white-space:pre">R8</text>
<text x="974" y="448.91" font-size="8.2" text-anchor="start" fill="#111" font-family='"Liberation Sans", sans-serif' style="white-space:pre">0</text>
<text x="672.5" y="436.41" font-size="8.2" text-anchor="start" fill="#111" font-family='"Liberation Sans", sans-serif' style="white-space:pre">HO</text>
<polyline points="553.6,457.3 699.8,457.3 699.8,145.2" fill="none" stroke="#1a1a1a" stroke-width="1" stroke-linejoin="miter"/>
<circle cx="699.8" cy="145.2" r="3" fill="#1a1a1a"/>
<text x="581" y="454.91" font-size="8.2" text-anchor="start" fill="#111" font-family='"Liberation Sans", sans-serif' style="white-space:pre">SW</text>
<polyline points="553.6,475.4 764.2,475.4 764.2,540" fill="none" stroke="#1a1a1a" stroke-width="1" stroke-linejoin="miter"/>
<rect x="671.6" y="473.9" width="2.4" height="3" fill="#fdfdfd"/>
<line x1="671" y1="467.7" x2="671" y2="483.1" stroke="#1a1a1a" stroke-width="1.1"/>
<line x1="674.6" y1="467.7" x2="674.6" y2="483.1" stroke="#1a1a1a" stroke-width="1.1"/>
<text x="667" y="465.91" font-size="8.2" text-anchor="start" fill="#111" font-family='"Liberation Sans", sans-serif' style="white-space:pre">C17</text>
<text x="667" y="491.41" font-size="8.2" text-anchor="start" fill="#111" font-family='"Liberation Sans", sans-serif' style="white-space:pre">4.7μF</text>
<circle cx="764.2" cy="512" r="3" fill="#1a1a1a"/>
<line x1="754.8" y1="540" x2="773.6" y2="540" stroke="#1a1a1a" stroke-width="1.1"/>
<line x1="757.5" y1="542.85" x2="770.9" y2="542.85" stroke="#1a1a1a" stroke-width="1"/>
<line x1="760.15" y1="545.7" x2="768.25" y2="545.7" stroke="#1a1a1a" stroke-width="1"/>
<line x1="762.9" y1="548.55" x2="765.5" y2="548.55" stroke="#1a1a1a" stroke-width="1"/>
<text x="764.2" y="556.43" font-size="8.25" text-anchor="middle" fill="#2a2a2a" font-family='"Liberation Serif", serif' style="white-space:pre">GND</text>
<polyline points="553.6,493.4 736.6,493.4 736.6,338.2 945.7,338.2" fill="none" stroke="#1a1a1a" stroke-width="1" stroke-linejoin="miter"/>
<text x="562.5" y="491.41" font-size="8.2" text-anchor="start" fill="#111" font-family='"Liberation Sans", sans-serif' style="white-space:pre">LO</text>
<rect x="786.45" y="336.6" width="10.7" height="3.2" fill="#fdfdfd"/>
<polyline points="786.05,338.2 787.43,336.1 789.25,340.3 791.06,336.1 792.88,340.3 794.7,336.1 796.51,340.3 797.55,338.2" fill="none" stroke="#1a1a1a" stroke-width="0.9" stroke-linejoin="round"/>
<text x="781.7" y="333.91" font-size="8.2" text-anchor="start" fill="#111" font-family='"Liberation Sans", sans-serif' style="white-space:pre">R6</text>
<text x="781.9" y="345.91" font-size="8.2" text-anchor="start" fill="#111" font-family='"Liberation Sans", sans-serif' style="white-space:pre">0</text>
<line x1="553.6" y1="512" x2="764.2" y2="512" stroke="#1a1a1a" stroke-width="1"/>
<polyline points="553.6,530.5 736.6,530.5 736.6,612.5" fill="none" stroke="#1a1a1a" stroke-width="1" stroke-linejoin="miter"/>
<text x="617" y="528.41" font-size="8.2" text-anchor="start" fill="#111" font-family='"Liberation Sans", sans-serif' style="white-space:pre">RES</text>
<rect x="735.1" y="570.3" width="3" height="2.4" fill="#fdfdfd"/>
<line x1="729.1" y1="569.7" x2="744.1" y2="569.7" stroke="#1a1a1a" stroke-width="1.1"/>
<line x1="729.1" y1="573.3" x2="744.1" y2="573.3" stroke="#1a1a1a" stroke-width="1.1"/>
<text x="745" y="574.41" font-size="8.2" text-anchor="start" fill="#111" font-family='"Liberation Sans", sans-serif' style="white-space:pre">C19</text>
<text x="745" y="583.41" font-size="8.2" text-anchor="start" fill="#111" font-family='"Liberation Sans", sans-serif' style="white-space:pre">0.47μF</text>
<line x1="736.6" y1="612.5" x2="736.6" y2="613.5" stroke="#1a1a1a" stroke-width="1"/>
<polygon points="727.1,613.4 746.1,613.4 736.6,622.6" fill="none" stroke="#1a1a1a" stroke-width="1"/>
<text x="736.6" y="629.43" font-size="8.25" text-anchor="middle" fill="#2a2a2a" font-family='"Liberation Serif", serif' style="white-space:pre">SGND</text>
<polyline points="553.6,548.4 626.3,548.4 626.3,649.2 653.9,649.2" fill="none" stroke="#1a1a1a" stroke-width="1" stroke-linejoin="miter"/>
<text x="562.5" y="546.41" font-size="8.2" text-anchor="start" fill="#111" font-family='"Liberation Sans", sans-serif' style="white-space:pre">MODE</text>
<line x1="649" y1="585.7" x2="658.8" y2="585.7" stroke="#1a1a1a" stroke-width="1"/>
<text x="653.9" y="583.75" font-size="8.8" text-anchor="middle" fill="#2a2a2a" font-family='"Liberation Serif", serif' style="white-space:pre" textLength="16.86" lengthAdjust="spacingAndGlyphs">VCC</text>
<line x1="653.9" y1="585.7" x2="653.9" y2="713" stroke="#1a1a1a" stroke-width="1"/>
<rect x="652.3" y="615.65" width="3.2" height="10.7" fill="#fdfdfd"/>
<polyline points="653.9,615.25 656,616.63 651.8,618.45 656,620.26 651.8,622.08 656,623.9 651.8,625.72 653.9,626.75" fill="none" stroke="#1a1a1a" stroke-width="0.9" stroke-linejoin="round"/>
<text x="657" y="619.41" font-size="8.2" text-anchor="start" fill="#111" font-family='"Liberation Sans", sans-serif' style="white-space:pre">R12</text>
<text x="657" y="628.41" font-size="8.2" text-anchor="start" fill="#111" font-family='"Liberation Sans", sans-serif' style="white-space:pre">0</text>
<circle cx="653.9" cy="649.2" r="3" fill="#1a1a1a"/>
<rect x="652.3" y="671.15" width="3.2" height="10.7" fill="#fdfdfd"/>
<polyline points="653.9,670.75 656,672.13 651.8,673.95 656,675.76 651.8,677.58 656,679.4 651.8,681.22 653.9,682.25" fill="none" stroke="#1a1a1a" stroke-width="0.9" stroke-linejoin="round"/>
<text x="657" y="674.41" font-size="8.2" text-anchor="start" fill="#111" font-family='"Liberation Sans", sans-serif' style="white-space:pre">R15</text>
<text x="657" y="683.91" font-size="8.2" text-anchor="start" fill="#111" font-family='"Liberation Sans", sans-serif' style="white-space:pre">0</text>
<text x="655.5" y="693.91" font-size="8.2" text-anchor="start" fill="#4a5a7a" font-family='"Liberation Sans", sans-serif' style="white-space:pre">DNP</text>
<line x1="653.9" y1="713" x2="653.9" y2="714" stroke="#1a1a1a" stroke-width="1"/>
<polygon points="644.4,713.9 663.4,713.9 653.9,723.1" fill="none" stroke="#1a1a1a" stroke-width="1"/>
<text x="653.9" y="730.43" font-size="8.25" text-anchor="middle" fill="#2a2a2a" font-family='"Liberation Serif", serif' style="white-space:pre">SGND</text>
<polyline points="553.6,567 590.1,567 590.1,649.2" fill="none" stroke="#1a1a1a" stroke-width="1" stroke-linejoin="miter"/>
<text x="562.5" y="564.41" font-size="8.2" text-anchor="start" fill="#111" font-family='"Liberation Sans", sans-serif' style="white-space:pre">SLOPE</text>
<rect x="588.5" y="617.15" width="3.2" height="10.7" fill="#fdfdfd"/>
<polyline points="590.1,616.75 592.2,618.13 588,619.95 592.2,621.76 588,623.58 592.2,625.4 588,627.22 590.1,628.25" fill="none" stroke="#1a1a1a" stroke-width="0.9" stroke-linejoin="round"/>
<text x="593" y="619.41" font-size="8.2" text-anchor="start" fill="#111" font-family='"Liberation Sans", sans-serif' style="white-space:pre">R11</text>
<text x="593" y="628.41" font-size="8.2" text-anchor="start" fill="#111" font-family='"Liberation Sans", sans-serif' style="white-space:pre">124k</text>
<line x1="590.1" y1="649.2" x2="590.1" y2="650.2" stroke="#1a1a1a" stroke-width="1"/>
<polygon points="580.6,650.1 599.6,650.1 590.1,659.3" fill="none" stroke="#1a1a1a" stroke-width="1"/>
<text x="590.1" y="666.43" font-size="8.25" text-anchor="middle" fill="#2a2a2a" font-family='"Liberation Serif", serif' style="white-space:pre">SGND</text>
<path d="M571.3,145.3 A4.64,5.0 0 0 1 580.57,145.3 A4.64,5.0 0 0 1 589.85,145.3 A4.64,5.0 0 0 1 599.12,145.3 A4.64,5.0 0 0 1 608.4,145.3" fill="none" stroke="#1a1a1a" stroke-width="1.1"/>
<line x1="571.5" y1="131.8" x2="608.5" y2="131.8" stroke="#555" stroke-width="1.4"/>
<line x1="571.5" y1="136.4" x2="608.5" y2="136.4" stroke="#1a1a1a" stroke-width="1.1"/>
<text x="571" y="129.21" font-size="8.2" text-anchor="start" fill="#111" font-family='"Liberation Sans", sans-serif' style="white-space:pre">L1</text>
<text x="571" y="156.21" font-size="8.2" text-anchor="start" fill="#111" font-family='"Liberation Sans", sans-serif' style="white-space:pre" textLength="52" lengthAdjust="spacingAndGlyphs">74435581000</text>
<line x1="736.5" y1="132.5" x2="736.5" y2="145.2" stroke="#1a1a1a" stroke-width="1"/>
<circle cx="736.5" cy="132.5" r="3.5" fill="#fdfdfd" stroke="#1a1a1a" stroke-width="1"/>
<circle cx="736.5" cy="145.2" r="3.5" fill="#1a1a1a"/>
<text x="727.7" y="116.41" font-size="8.2" text-anchor="start" fill="#111" font-family='"Liberation Sans", sans-serif' style="white-space:pre">TP2</text>
<text x="727.7" y="126.11" font-size="8.2" text-anchor="start" fill="#111" font-family='"Liberation Sans", sans-serif' style="white-space:pre">SW</text>
<polyline points="938.2,145.2 938.2,81.4 1076,81.4 1076,145.2" fill="none" stroke="#1a1a1a" stroke-width="1" stroke-linejoin="miter"/>
<circle cx="938.2" cy="145.2" r="3" fill="#1a1a1a"/>
<circle cx="956.6" cy="145.2" r="3" fill="#1a1a1a"/>
<rect x="969.85" y="79.8" width="10.7" height="3.2" fill="#fdfdfd"/>
<polyline points="969.45,81.4 970.83,79.3 972.65,83.5 974.46,79.3 976.28,83.5 978.1,79.3 979.92,83.5 980.95,81.4" fill="none" stroke="#1a1a1a" stroke-width="0.9" stroke-linejoin="round"/>
<text x="965.2" y="77.41" font-size="8.2" text-anchor="start" fill="#111" font-family='"Liberation Sans", sans-serif' style="white-space:pre">R1</text>
<text x="965.2" y="92.41" font-size="8.2" text-anchor="start" fill="#111" font-family='"Liberation Sans", sans-serif' style="white-space:pre">4.7</text>
<circle cx="1076" cy="145.2" r="3" fill="#1a1a1a"/>
<rect x="1015.1" y="79.9" width="2.4" height="3" fill="#fdfdfd"/>
<line x1="1014.5" y1="74.15" x2="1014.5" y2="88.65" stroke="#1a1a1a" stroke-width="1.1"/>
<line x1="1018.1" y1="74.15" x2="1018.1" y2="88.65" stroke="#1a1a1a" stroke-width="1.1"/>
<text x="1012" y="71.91" font-size="8.2" text-anchor="start" fill="#111" font-family='"Liberation Sans", sans-serif' style="white-space:pre">C1</text>
<text x="1011" y="96.91" font-size="8.2" text-anchor="start" fill="#111" font-family='"Liberation Sans", sans-serif' style="white-space:pre">150pF</text>
<circle cx="975" cy="145.2" r="3.2" fill="#1a1a1a"/>
<circle cx="1029.6" cy="145.2" r="3.2" fill="#1a1a1a"/>
<line x1="975" y1="145.2" x2="993.4" y2="145.2" stroke="#1a1a1a" stroke-width="2"/>
<line x1="1011.7" y1="145.2" x2="1029.6" y2="145.2" stroke="#1a1a1a" stroke-width="2"/>
<polyline points="993.4,145.2 993.4,136.4 1011.7,136.4 1011.7,145.2" fill="none" stroke="#1a1a1a" stroke-width="1" stroke-linejoin="miter"/>
<polygon points="999.3,133.2 999.3,139.6 1004.4,136.4" fill="#1a1a1a"/>
<line x1="1004.4" y1="133" x2="1004.4" y2="139.8" stroke="#1a1a1a" stroke-width="1.1"/>
<line x1="993.4" y1="145.2" x2="1002.8" y2="145.2" stroke="#1a1a1a" stroke-width="1"/>
<line x1="1008.8" y1="145.2" x2="1011.7" y2="145.2" stroke="#1a1a1a" stroke-width="1"/>
<line x1="996.3" y1="145.2" x2="996.3" y2="154.7" stroke="#1a1a1a" stroke-width="1"/>
<line x1="994.7" y1="154.7" x2="998" y2="154.7" stroke="#1a1a1a" stroke-width="0.9"/>
<line x1="1008.8" y1="145.2" x2="1008.8" y2="154.7" stroke="#1a1a1a" stroke-width="1"/>
<line x1="1007.2" y1="154.7" x2="1010.4" y2="154.7" stroke="#1a1a1a" stroke-width="0.9"/>
<line x1="1002.8" y1="145.2" x2="1002.8" y2="155" stroke="#1a1a1a" stroke-width="1"/>
<polygon points="1002.8,154.8 1000.4,148.8 1005.2,148.8" fill="#1a1a1a"/>
<line x1="994.3" y1="156.4" x2="1010.9" y2="156.4" stroke="#1a1a1a" stroke-width="1.2"/>
<text x="975" y="125.91" font-size="8.2" text-anchor="start" fill="#111" font-family='"Liberation Sans", sans-serif' style="white-space:pre">CSD18501Q5A</text>
<text x="975" y="135.31" font-size="8.2" text-anchor="start" fill="#111" font-family='"Liberation Sans", sans-serif' style="white-space:pre">Q1</text>
<text x="976" y="153.51" font-size="8.2" text-anchor="start" fill="#111" font-family='"Liberation Sans", sans-serif' style="white-space:pre">1,2,3</text>
<text x="1013" y="155.11" font-size="8.2" text-anchor="start" fill="#111" font-family='"Liberation Sans", sans-serif' style="white-space:pre">7,8</text>
<text x="1013" y="164.31" font-size="8.2" text-anchor="start" fill="#111" font-family='"Liberation Sans", sans-serif' style="white-space:pre">5,6,</text>
<text x="998.3" y="177.71" font-size="6.8" text-anchor="middle" fill="#111" font-family='"Liberation Sans", sans-serif' style="white-space:pre" transform="rotate(-90 998.3 175.3)">4</text>
<line x1="956.6" y1="145.2" x2="956.6" y2="310.1" stroke="#1a1a1a" stroke-width="1"/>
<circle cx="956.6" cy="310.1" r="3" fill="#1a1a1a"/>
<line x1="956.6" y1="310.1" x2="956.6" y2="328.3" stroke="#1a1a1a" stroke-width="2"/>
<polyline points="956.6,328.3 966.3,328.3 966.3,347 956.6,347" fill="none" stroke="#1a1a1a" stroke-width="1" stroke-linejoin="miter"/>
<line x1="956.6" y1="347" x2="956.6" y2="365.3" stroke="#1a1a1a" stroke-width="2"/>
<circle cx="956.6" cy="365.3" r="3" fill="#1a1a1a"/>
<line x1="956.6" y1="365.3" x2="956.6" y2="392.3" stroke="#1a1a1a" stroke-width="1"/>
<line x1="947.2" y1="392.3" x2="966" y2="392.3" stroke="#1a1a1a" stroke-width="1.1"/>
<line x1="949.9" y1="395.15" x2="963.3" y2="395.15" stroke="#1a1a1a" stroke-width="1"/>
<line x1="952.55" y1="398" x2="960.65" y2="398" stroke="#1a1a1a" stroke-width="1"/>
<line x1="955.3" y1="400.85" x2="957.9" y2="400.85" stroke="#1a1a1a" stroke-width="1"/>
<text x="956.6" y="408.93" font-size="8.25" text-anchor="middle" fill="#2a2a2a" font-family='"Liberation Serif", serif' style="white-space:pre">GND</text>
<line x1="945.7" y1="329.4" x2="945.7" y2="346.3" stroke="#1a1a1a" stroke-width="1.1"/>
<line x1="947.6" y1="331.3" x2="956.6" y2="331.3" stroke="#1a1a1a" stroke-width="1"/>
<line x1="956.6" y1="328.3" x2="956.6" y2="331.3" stroke="#1a1a1a" stroke-width="1"/>
<line x1="947.6" y1="329.3" x2="947.6" y2="333.3" stroke="#1a1a1a" stroke-width="1"/>
<line x1="947.6" y1="337.9" x2="956.6" y2="337.9" stroke="#1a1a1a" stroke-width="1"/>
<line x1="947.6" y1="335.9" x2="947.6" y2="339.9" stroke="#1a1a1a" stroke-width="1"/>
<polygon points="948.3,337.9 953.5,335.2 953.5,340.6" fill="#1a1a1a"/>
<line x1="956.6" y1="337.9" x2="956.6" y2="347" stroke="#1a1a1a" stroke-width="1"/>
<line x1="947.6" y1="344.1" x2="956.6" y2="344.1" stroke="#1a1a1a" stroke-width="1"/>
<line x1="947.6" y1="342.1" x2="947.6" y2="346.1" stroke="#1a1a1a" stroke-width="1"/>
<polygon points="966.3,336 962.9,340.8 969.7,340.8" fill="#1a1a1a"/>
<line x1="962.9" y1="336" x2="969.7" y2="336" stroke="#1a1a1a" stroke-width="1"/>
<text x="912" y="327.21" font-size="8.2" text-anchor="start" fill="#111" font-family='"Liberation Sans", sans-serif' style="white-space:pre">Q2</text>
<text x="884" y="355.21" font-size="8.2" text-anchor="start" fill="#111" font-family='"Liberation Sans", sans-serif' style="white-space:pre">CSD18501Q5A</text>
<text x="925.5" y="337.01" font-size="6.8" text-anchor="start" fill="#111" font-family='"Liberation Sans", sans-serif' style="white-space:pre">4</text>
<text x="941.3" y="324.16" font-size="7.5" text-anchor="middle" fill="#111" font-family='"Liberation Sans", sans-serif' style="white-space:pre" transform="rotate(-90 941.3 321.5)">5,6,</text>
<text x="950.5" y="324.66" font-size="7.5" text-anchor="middle" fill="#111" font-family='"Liberation Sans", sans-serif' style="white-space:pre" transform="rotate(-90 950.5 322)">7,8</text>
<text x="952" y="358.66" font-size="7.5" text-anchor="middle" fill="#111" font-family='"Liberation Sans", sans-serif' style="white-space:pre" transform="rotate(-90 952 356)">1,2,3</text>
<line x1="1029.6" y1="145.2" x2="1469.6" y2="145.2" stroke="#1a1a1a" stroke-width="1"/>
<line x1="1057.4" y1="227.9" x2="1473.5" y2="227.9" stroke="#1a1a1a" stroke-width="1"/>
<line x1="1057.4" y1="145.2" x2="1057.4" y2="255" stroke="#1a1a1a" stroke-width="1"/>
<line x1="1048" y1="255" x2="1066.8" y2="255" stroke="#1a1a1a" stroke-width="1.1"/>
<line x1="1050.7" y1="257.85" x2="1064.1" y2="257.85" stroke="#1a1a1a" stroke-width="1"/>
<line x1="1053.35" y1="260.7" x2="1061.45" y2="260.7" stroke="#1a1a1a" stroke-width="1"/>
<line x1="1056.1" y1="263.55" x2="1058.7" y2="263.55" stroke="#1a1a1a" stroke-width="1"/>
<text x="1057.4" y="271.93" font-size="8.25" text-anchor="middle" fill="#2a2a2a" font-family='"Liberation Serif", serif' style="white-space:pre">GND</text>
<circle cx="1057.4" cy="145.2" r="3" fill="#1a1a1a"/>
<circle cx="1057.4" cy="227.9" r="3" fill="#1a1a1a"/>
<rect x="1055.9" y="175.8" width="3" height="2.4" fill="#fdfdfd"/>
<line x1="1049.9" y1="175.2" x2="1064.9" y2="175.2" stroke="#1a1a1a" stroke-width="1.1"/>
<line x1="1049.9" y1="178.8" x2="1064.9" y2="178.8" stroke="#1a1a1a" stroke-width="1.1"/>
<circle cx="1093.9" cy="145.2" r="3" fill="#1a1a1a"/>
<circle cx="1093.9" cy="227.9" r="3" fill="#1a1a1a"/>
<line x1="1093.9" y1="145.2" x2="1093.9" y2="227.9" stroke="#1a1a1a" stroke-width="1"/>
<rect x="1092.4" y="175.8" width="3" height="2.4" fill="#fdfdfd"/>
<line x1="1086.4" y1="175.2" x2="1101.4" y2="175.2" stroke="#1a1a1a" stroke-width="1.1"/>
<line x1="1086.4" y1="178.8" x2="1101.4" y2="178.8" stroke="#1a1a1a" stroke-width="1.1"/>
<circle cx="1130.6" cy="145.2" r="3" fill="#1a1a1a"/>
<circle cx="1130.6" cy="227.9" r="3" fill="#1a1a1a"/>
<line x1="1130.6" y1="145.2" x2="1130.6" y2="227.9" stroke="#1a1a1a" stroke-width="1"/>
<rect x="1129.1" y="175.8" width="3" height="2.4" fill="#fdfdfd"/>
<line x1="1123.1" y1="175.2" x2="1138.1" y2="175.2" stroke="#1a1a1a" stroke-width="1.1"/>
<line x1="1123.1" y1="178.8" x2="1138.1" y2="178.8" stroke="#1a1a1a" stroke-width="1.1"/>
<circle cx="1167.1" cy="145.2" r="3" fill="#1a1a1a"/>
<circle cx="1167.1" cy="227.9" r="3" fill="#1a1a1a"/>
<line x1="1167.1" y1="145.2" x2="1167.1" y2="227.9" stroke="#1a1a1a" stroke-width="1"/>
<rect x="1165.6" y="175.8" width="3" height="2.4" fill="#fdfdfd"/>
<line x1="1159.6" y1="175.2" x2="1174.6" y2="175.2" stroke="#1a1a1a" stroke-width="1.1"/>
<line x1="1159.6" y1="178.8" x2="1174.6" y2="178.8" stroke="#1a1a1a" stroke-width="1.1"/>
<circle cx="1203.9" cy="145.2" r="3" fill="#1a1a1a"/>
<circle cx="1203.9" cy="227.9" r="3" fill="#1a1a1a"/>
<line x1="1203.9" y1="145.2" x2="1203.9" y2="227.9" stroke="#1a1a1a" stroke-width="1"/>
<rect x="1202.4" y="173.9" width="3" height="2.6" fill="#fdfdfd"/>
<line x1="1196.4" y1="173.2" x2="1211.4" y2="173.2" stroke="#1a1a1a" stroke-width="1.1"/>
<path d="M1196.4,178.5 Q1203.9,174.5 1211.4,178.5" fill="none" stroke="#1a1a1a" stroke-width="1.1"/>
<line x1="1206.1" y1="168.5" x2="1210.5" y2="168.5" stroke="#1a1a1a" stroke-width="0.9"/>
<line x1="1208.3" y1="166.3" x2="1208.3" y2="170.7" stroke="#1a1a1a" stroke-width="0.9"/>
<circle cx="1240.7" cy="145.2" r="3" fill="#1a1a1a"/>
<circle cx="1240.7" cy="227.9" r="3" fill="#1a1a1a"/>
<line x1="1240.7" y1="145.2" x2="1240.7" y2="227.9" stroke="#1a1a1a" stroke-width="1"/>
<rect x="1239.2" y="173.9" width="3" height="2.6" fill="#fdfdfd"/>
<line x1="1233.2" y1="173.2" x2="1248.2" y2="173.2" stroke="#1a1a1a" stroke-width="1.1"/>
<path d="M1233.2,178.5 Q1240.7,174.5 1248.2,178.5" fill="none" stroke="#1a1a1a" stroke-width="1.1"/>
<line x1="1242.9" y1="168.5" x2="1247.3" y2="168.5" stroke="#1a1a1a" stroke-width="0.9"/>
<line x1="1245.1" y1="166.3" x2="1245.1" y2="170.7" stroke="#1a1a1a" stroke-width="0.9"/>
<circle cx="1277.4" cy="145.2" r="3" fill="#1a1a1a"/>
<circle cx="1277.4" cy="227.9" r="3" fill="#1a1a1a"/>
<line x1="1277.4" y1="145.2" x2="1277.4" y2="227.9" stroke="#1a1a1a" stroke-width="1"/>
<rect x="1275.9" y="173.9" width="3" height="2.6" fill="#fdfdfd"/>
<line x1="1269.9" y1="173.2" x2="1284.9" y2="173.2" stroke="#1a1a1a" stroke-width="1.1"/>
<path d="M1269.9,178.5 Q1277.4,174.5 1284.9,178.5" fill="none" stroke="#1a1a1a" stroke-width="1.1"/>
<line x1="1279.6" y1="168.5" x2="1284" y2="168.5" stroke="#1a1a1a" stroke-width="0.9"/>
<line x1="1281.8" y1="166.3" x2="1281.8" y2="170.7" stroke="#1a1a1a" stroke-width="0.9"/>
<circle cx="1322.9" cy="145.2" r="3" fill="#1a1a1a"/>
<circle cx="1322.9" cy="227.9" r="3" fill="#1a1a1a"/>
<line x1="1322.9" y1="145.2" x2="1322.9" y2="227.9" stroke="#1a1a1a" stroke-width="1"/>
<rect x="1321.4" y="173.9" width="3" height="2.6" fill="#fdfdfd"/>
<line x1="1315.4" y1="173.2" x2="1330.4" y2="173.2" stroke="#1a1a1a" stroke-width="1.1"/>
<path d="M1315.4,178.5 Q1322.9,174.5 1330.4,178.5" fill="none" stroke="#1a1a1a" stroke-width="1.1"/>
<line x1="1325.1" y1="168.5" x2="1329.5" y2="168.5" stroke="#1a1a1a" stroke-width="0.9"/>
<line x1="1327.3" y1="166.3" x2="1327.3" y2="170.7" stroke="#1a1a1a" stroke-width="0.9"/>
<circle cx="1368.8" cy="145.2" r="3" fill="#1a1a1a"/>
<circle cx="1368.8" cy="227.9" r="3" fill="#1a1a1a"/>
<line x1="1368.8" y1="145.2" x2="1368.8" y2="227.9" stroke="#1a1a1a" stroke-width="1"/>
<rect x="1367.3" y="175.8" width="3" height="2.4" fill="#fdfdfd"/>
<line x1="1361.3" y1="175.2" x2="1376.3" y2="175.2" stroke="#1a1a1a" stroke-width="1.1"/>
<line x1="1361.3" y1="178.8" x2="1376.3" y2="178.8" stroke="#1a1a1a" stroke-width="1.1"/>
<text x="1066" y="178.91" font-size="8.2" text-anchor="start" fill="#111" font-family='"Liberation Sans", sans-serif' style="white-space:pre">C10</text>
<text x="1066" y="189.21" font-size="8.2" text-anchor="start" fill="#111" font-family='"Liberation Sans", sans-serif' style="white-space:pre">3.3μF</text>
<text x="1101.9" y="179.91" font-size="8.2" text-anchor="start" fill="#111" font-family='"Liberation Sans", sans-serif' style="white-space:pre">C13</text>
<text x="1103.2" y="189.21" font-size="8.2" text-anchor="start" fill="#111" font-family='"Liberation Sans", sans-serif' style="white-space:pre">10μF</text>
<text x="1138.6" y="179.91" font-size="8.2" text-anchor="start" fill="#111" font-family='"Liberation Sans", sans-serif' style="white-space:pre">C14</text>
<text x="1139.9" y="189.21" font-size="8.2" text-anchor="start" fill="#111" font-family='"Liberation Sans", sans-serif' style="white-space:pre">10μF</text>
<text x="1175.1" y="179.91" font-size="8.2" text-anchor="start" fill="#111" font-family='"Liberation Sans", sans-serif' style="white-space:pre">C11</text>
<text x="1176.4" y="189.21" font-size="8.2" text-anchor="start" fill="#111" font-family='"Liberation Sans", sans-serif' style="white-space:pre">10μF</text>
<text x="1212.5" y="173.21" font-size="8.2" text-anchor="start" fill="#111" font-family='"Liberation Sans", sans-serif' style="white-space:pre">C6</text>
<text x="1213" y="189.91" font-size="8.2" text-anchor="start" fill="#111" font-family='"Liberation Sans", sans-serif' style="white-space:pre">330μF</text>
<text x="1249.5" y="173.21" font-size="8.2" text-anchor="start" fill="#111" font-family='"Liberation Sans", sans-serif' style="white-space:pre">C7</text>
<text x="1250" y="189.91" font-size="8.2" text-anchor="start" fill="#111" font-family='"Liberation Sans", sans-serif' style="white-space:pre">330μF</text>
<text x="1286.5" y="173.21" font-size="8.2" text-anchor="start" fill="#111" font-family='"Liberation Sans", sans-serif' style="white-space:pre">C8</text>
<text x="1285.5" y="182.21" font-size="8.2" text-anchor="start" fill="#111" font-family='"Liberation Sans", sans-serif' style="white-space:pre">330μF</text>
<text x="1331.5" y="173.21" font-size="8.2" text-anchor="start" fill="#111" font-family='"Liberation Sans", sans-serif' style="white-space:pre">C9</text>
<text x="1331.5" y="182.21" font-size="8.2" text-anchor="start" fill="#111" font-family='"Liberation Sans", sans-serif' style="white-space:pre">330μF</text>
<text x="1377" y="179.21" font-size="8.2" text-anchor="start" fill="#111" font-family='"Liberation Sans", sans-serif' style="white-space:pre">C12</text>
<text x="1378.5" y="190.21" font-size="8.2" text-anchor="start" fill="#111" font-family='"Liberation Sans", sans-serif' style="white-space:pre">1μF</text>
<line x1="1295.8" y1="132.5" x2="1295.8" y2="145.2" stroke="#1a1a1a" stroke-width="1"/>
<circle cx="1295.8" cy="132.5" r="3.6" fill="#5a5a5a" stroke="#333" stroke-width="0.8"/>
<circle cx="1295.8" cy="145.2" r="3" fill="#1a1a1a"/>
<text x="1287" y="115.91" font-size="8.2" text-anchor="start" fill="#111" font-family='"Liberation Sans", sans-serif' style="white-space:pre">TP3</text>
<text x="1287" y="125.91" font-size="8.2" text-anchor="start" fill="#111" font-family='"Liberation Sans", sans-serif' style="white-space:pre">Vout</text>
<line x1="1336.9" y1="104.4" x2="1346.7" y2="104.4" stroke="#1a1a1a" stroke-width="1"/>
<text x="1341.8" y="102.45" font-size="8.8" text-anchor="middle" fill="#2a2a2a" font-family='"Liberation Serif", serif' style="white-space:pre" textLength="22.77" lengthAdjust="spacingAndGlyphs">VOUT</text>
<line x1="1341.8" y1="104.4" x2="1341.8" y2="145.2" stroke="#1a1a1a" stroke-width="1"/>
<circle cx="1341.8" cy="145.2" r="3" fill="#1a1a1a"/>
<rect x="1417.65" y="143.6" width="10.7" height="3.2" fill="#fdfdfd"/>
<polyline points="1417.25,145.2 1418.63,143.1 1420.45,147.3 1422.26,143.1 1424.08,147.3 1425.9,143.1 1427.71,147.3 1428.75,145.2" fill="none" stroke="#1a1a1a" stroke-width="0.9" stroke-linejoin="round"/>
<text x="1414.5" y="141.41" font-size="8.2" text-anchor="start" fill="#111" font-family='"Liberation Sans", sans-serif' style="white-space:pre">R20</text>
<text x="1414.5" y="155.91" font-size="8.2" text-anchor="start" fill="#111" font-family='"Liberation Sans", sans-serif' style="white-space:pre">0.016</text>
<line x1="1465" y1="109" x2="1474.8" y2="109" stroke="#1a1a1a" stroke-width="1"/>
<text x="1469.9" y="107.05" font-size="8.8" text-anchor="middle" fill="#2a2a2a" font-family='"Liberation Serif", serif' style="white-space:pre" textLength="26.87" lengthAdjust="spacingAndGlyphs">VOUT1</text>
<line x1="1469.9" y1="109" x2="1469.9" y2="145.2" stroke="#1a1a1a" stroke-width="1"/>
<circle cx="1469.6" cy="145.2" r="3" fill="#1a1a1a"/>
<line x1="1469.6" y1="145.2" x2="1490" y2="145.2" stroke="#1a1a1a" stroke-width="1"/>
<circle cx="1497" cy="145.2" r="6.95" fill="none" stroke="#c3c3c3" stroke-width="4.8"/>
<text x="1488.8" y="135.21" font-size="8.2" text-anchor="start" fill="#111" font-family='"Liberation Sans", sans-serif' style="white-space:pre">J3</text>
<text x="1488.8" y="161.91" font-size="8.2" text-anchor="start" fill="#111" font-family='"Liberation Sans", sans-serif' style="white-space:pre">LED+</text>
<circle cx="1473.5" cy="227.9" r="3.7" fill="#1a1a1a"/>
<text x="1479" y="226.41" font-size="8.2" text-anchor="start" fill="#111" font-family='"Liberation Sans", sans-serif' style="white-space:pre">TP5</text>
<text x="1479" y="236.41" font-size="8.2" text-anchor="start" fill="#111" font-family='"Liberation Sans", sans-serif' style="white-space:pre">GNDout</text>
<line x1="1437.9" y1="283.5" x2="1447.7" y2="283.5" stroke="#1a1a1a" stroke-width="1"/>
<text x="1442.8" y="281.55" font-size="8.8" text-anchor="middle" fill="#2a2a2a" font-family='"Liberation Serif", serif' style="white-space:pre" textLength="16.01" lengthAdjust="spacingAndGlyphs">Bat+</text>
<polyline points="1442.8,283.5 1442.8,292 1490,292" fill="none" stroke="#1a1a1a" stroke-width="1" stroke-linejoin="miter"/>
<circle cx="1497" cy="292" r="6.95" fill="none" stroke="#c3c3c3" stroke-width="4.8"/>
<text x="1488.5" y="281.91" font-size="8.2" text-anchor="start" fill="#111" font-family='"Liberation Sans", sans-serif' style="white-space:pre">J4</text>
<text x="1488.5" y="308.91" font-size="8.2" text-anchor="start" fill="#111" font-family='"Liberation Sans", sans-serif' style="white-space:pre">LED-</text>
<polyline points="1490,347.2 1442.8,347.2 1442.8,356.5" fill="none" stroke="#1a1a1a" stroke-width="1" stroke-linejoin="miter"/>
<line x1="1433.4" y1="356.5" x2="1452.2" y2="356.5" stroke="#1a1a1a" stroke-width="1.1"/>
<line x1="1436.1" y1="359.35" x2="1449.5" y2="359.35" stroke="#1a1a1a" stroke-width="1"/>
<line x1="1438.75" y1="362.2" x2="1446.85" y2="362.2" stroke="#1a1a1a" stroke-width="1"/>
<line x1="1441.5" y1="365.05" x2="1444.1" y2="365.05" stroke="#1a1a1a" stroke-width="1"/>
<text x="1442.8" y="373.43" font-size="8.25" text-anchor="middle" fill="#2a2a2a" font-family='"Liberation Serif", serif' style="white-space:pre">GND</text>
<circle cx="1497" cy="347.2" r="6.95" fill="none" stroke="#c3c3c3" stroke-width="4.8"/>
<text x="1488.5" y="335.91" font-size="8.2" text-anchor="start" fill="#111" font-family='"Liberation Sans", sans-serif' style="white-space:pre">J6</text>
<text x="1488.5" y="363.91" font-size="8.2" text-anchor="start" fill="#111" font-family='"Liberation Sans", sans-serif' style="white-space:pre">575-4</text>
<text x="1103.2" y="319.2" font-size="10.2" text-anchor="start" fill="#111" font-family='"Liberation Sans", sans-serif' style="white-space:pre" textLength="240.16" lengthAdjust="spacingAndGlyphs">For the Boost-to-battery configuration, the LED string is</text>
<text x="1103.2" y="330.2" font-size="10.2" text-anchor="start" fill="#111" font-family='"Liberation Sans", sans-serif' style="white-space:pre" textLength="238.02" lengthAdjust="spacingAndGlyphs">placed from Vout to Vin with the anode at Vout and the</text>
<text x="1103.2" y="341.2" font-size="10.2" text-anchor="start" fill="#111" font-family='"Liberation Sans", sans-serif' style="white-space:pre" textLength="232.01" lengthAdjust="spacingAndGlyphs">cathode at Vin. The output capacitors are also placed</text>
<text x="1103.2" y="352.2" font-size="10.2" text-anchor="start" fill="#111" font-family='"Liberation Sans", sans-serif' style="white-space:pre" textLength="181.76" lengthAdjust="spacingAndGlyphs">from Vout to Vin rather than Vout to GND.</text>
<text x="1103.2" y="374.1" font-size="10.2" text-anchor="start" fill="#111" font-family='"Liberation Sans", sans-serif' style="white-space:pre" textLength="240.18" lengthAdjust="spacingAndGlyphs">Note: the schematic shows only the boost configuration</text>
<text x="1103.2" y="386.2" font-size="10.2" text-anchor="start" fill="#111" font-family='"Liberation Sans", sans-serif' style="white-space:pre" textLength="228.18" lengthAdjust="spacingAndGlyphs">but testing for boost and boost-to-battery were done.</text>
<text x="49.4" y="786.9" font-size="10.1" text-anchor="start" fill="#111" font-family='"Liberation Sans", sans-serif' style="white-space:pre" textLength="126.69" lengthAdjust="spacingAndGlyphs">Parts with reference numbers</text>
<text x="49.4" y="797.85" font-size="10.1" text-anchor="start" fill="#111" font-family='"Liberation Sans", sans-serif' style="white-space:pre" textLength="98.69" lengthAdjust="spacingAndGlyphs">greater than 99 are not</text>
<text x="49.4" y="808.8" font-size="10.1" text-anchor="start" fill="#111" font-family='"Liberation Sans", sans-serif' style="white-space:pre" textLength="126.72" lengthAdjust="spacingAndGlyphs">implemented in the layout but</text>
<text x="49.4" y="819.75" font-size="10.1" text-anchor="start" fill="#111" font-family='"Liberation Sans", sans-serif' style="white-space:pre" textLength="119.16" lengthAdjust="spacingAndGlyphs">are required for overvoltage</text>
<text x="49.4" y="830.7" font-size="10.1" text-anchor="start" fill="#111" font-family='"Liberation Sans", sans-serif' style="white-space:pre" textLength="42.6" lengthAdjust="spacingAndGlyphs">protection</text>
<text x="507.8" y="878.9" font-size="9.95" text-anchor="start" fill="#111" font-family='"Liberation Sans", sans-serif' style="white-space:pre" textLength="185.31" lengthAdjust="spacingAndGlyphs">All of the power ground connections should</text>
<text x="507.8" y="889.73" font-size="9.95" text-anchor="start" fill="#111" font-family='"Liberation Sans", sans-serif' style="white-space:pre" textLength="195.01" lengthAdjust="spacingAndGlyphs">be connected to a single point. Also, all of the</text>
<text x="507.8" y="900.56" font-size="9.95" text-anchor="start" fill="#111" font-family='"Liberation Sans", sans-serif' style="white-space:pre" textLength="197.15" lengthAdjust="spacingAndGlyphs">noise sensitive low power ground connections</text>
<text x="507.8" y="911.39" font-size="9.95" text-anchor="start" fill="#111" font-family='"Liberation Sans", sans-serif' style="white-space:pre" textLength="196.62" lengthAdjust="spacingAndGlyphs">should be connected together near the AGND</text>
<text x="507.8" y="922.22" font-size="9.95" text-anchor="start" fill="#111" font-family='"Liberation Sans", sans-serif' style="white-space:pre" textLength="189.09" lengthAdjust="spacingAndGlyphs">pin and a single connection should be made</text>
<text x="507.8" y="933.05" font-size="9.95" text-anchor="start" fill="#111" font-family='"Liberation Sans", sans-serif' style="white-space:pre" textLength="109.34" lengthAdjust="spacingAndGlyphs">to the single point PGND.</text>
<polyline points="269.2,877.5 269.2,850.9 296.4,850.9" fill="none" stroke="#1a1a1a" stroke-width="1" stroke-linejoin="miter"/>
<rect x="296.4" y="846.5" width="18.3" height="8.8" fill="#eeeeee" stroke="#1a1a1a" stroke-width="1"/>
<line x1="314.7" y1="850.9" x2="388.4" y2="850.9" stroke="#1a1a1a" stroke-width="1"/>
<rect x="388.4" y="846.5" width="18.2" height="8.8" fill="#eeeeee" stroke="#1a1a1a" stroke-width="1"/>
<polyline points="406.6,850.9 434.2,850.9 434.2,877.5" fill="none" stroke="#1a1a1a" stroke-width="1" stroke-linejoin="miter"/>
<circle cx="342.2" cy="850.9" r="3" fill="#1a1a1a"/>
<line x1="342.2" y1="850.9" x2="342.2" y2="878.7" stroke="#1a1a1a" stroke-width="1"/>
<line x1="269.2" y1="877.5" x2="269.2" y2="878.5" stroke="#1a1a1a" stroke-width="1"/>
<polygon points="259.7,878.4 278.7,878.4 269.2,887.6" fill="none" stroke="#1a1a1a" stroke-width="1"/>
<text x="269.2" y="895.13" font-size="8.25" text-anchor="middle" fill="#2a2a2a" font-family='"Liberation Serif", serif' style="white-space:pre">SGND</text>
<line x1="332.8" y1="878.7" x2="351.6" y2="878.7" stroke="#1a1a1a" stroke-width="1.1"/>
<line x1="335.5" y1="881.55" x2="348.9" y2="881.55" stroke="#1a1a1a" stroke-width="1"/>
<line x1="338.15" y1="884.4" x2="346.25" y2="884.4" stroke="#1a1a1a" stroke-width="1"/>
<line x1="340.9" y1="887.25" x2="343.5" y2="887.25" stroke="#1a1a1a" stroke-width="1"/>
<text x="342.2" y="894.93" font-size="8.25" text-anchor="middle" fill="#2a2a2a" font-family='"Liberation Serif", serif' style="white-space:pre">GND</text>
<line x1="434.2" y1="877.5" x2="434.2" y2="878.5" stroke="#1a1a1a" stroke-width="1"/>
<polygon points="424.7,878.4 443.7,878.4 434.2,887.6" fill="none" stroke="#1a1a1a" stroke-width="1"/>
<text x="434.2" y="895.13" font-size="8.25" text-anchor="middle" fill="#2a2a2a" font-family='"Liberation Serif", serif' style="white-space:pre">SGND2</text>
<text x="296" y="844.91" font-size="8.2" text-anchor="start" fill="#111" font-family='"Liberation Sans", sans-serif' style="white-space:pre">NT1</text>
<text x="296" y="862.91" font-size="8.2" text-anchor="start" fill="#111" font-family='"Liberation Sans", sans-serif' style="white-space:pre">Net-Tie</text>
<text x="388" y="844.91" font-size="8.2" text-anchor="start" fill="#111" font-family='"Liberation Sans", sans-serif' style="white-space:pre">NT2</text>
<text x="388" y="862.91" font-size="8.2" text-anchor="start" fill="#111" font-family='"Liberation Sans", sans-serif' style="white-space:pre">Net-Tie</text>
<circle cx="846.4" cy="777.9" r="3" fill="#1a1a1a"/>
<line x1="846.4" y1="777.9" x2="846.4" y2="823.3" stroke="#1a1a1a" stroke-width="1"/>
<rect x="844.8" y="791.65" width="3.2" height="10.7" fill="#fdfdfd"/>
<polyline points="846.4,791.25 848.5,792.63 844.3,794.45 848.5,796.26 844.3,798.08 848.5,799.9 844.3,801.72 846.4,802.75" fill="none" stroke="#1a1a1a" stroke-width="0.9" stroke-linejoin="round"/>
<text x="849.5" y="794.41" font-size="8.2" text-anchor="start" fill="#111" font-family='"Liberation Sans", sans-serif' style="white-space:pre">R17</text>
<text x="849.5" y="803.41" font-size="8.2" text-anchor="start" fill="#111" font-family='"Liberation Sans", sans-serif' style="white-space:pre">10.0k</text>
<line x1="846.4" y1="823.3" x2="846.4" y2="824.3" stroke="#1a1a1a" stroke-width="1"/>
<polygon points="836.9,824.2 855.9,824.2 846.4,833.4" fill="none" stroke="#1a1a1a" stroke-width="1"/>
<text x="846.4" y="840.23" font-size="8.25" text-anchor="middle" fill="#2a2a2a" font-family='"Liberation Serif", serif' style="white-space:pre">SGND</text>
<rect x="896.25" y="776.3" width="10.7" height="3.2" fill="#fdfdfd"/>
<polyline points="895.85,777.9 897.23,775.8 899.05,780 900.86,775.8 902.68,780 904.5,775.8 906.32,780 907.35,777.9" fill="none" stroke="#1a1a1a" stroke-width="0.9" stroke-linejoin="round"/>
<text x="891.5" y="773.41" font-size="8.2" text-anchor="start" fill="#111" font-family='"Liberation Sans", sans-serif' style="white-space:pre">R18</text>
<text x="891.5" y="788.41" font-size="8.2" text-anchor="start" fill="#111" font-family='"Liberation Sans", sans-serif' style="white-space:pre">10.0k</text>
<line x1="947.3" y1="765" x2="947.3" y2="777.9" stroke="#1a1a1a" stroke-width="1"/>
<circle cx="947.3" cy="765" r="3.5" fill="#fdfdfd" stroke="#1a1a1a" stroke-width="1"/>
<circle cx="947.3" cy="777.9" r="3" fill="#1a1a1a"/>
<text x="938.5" y="748.91" font-size="8.2" text-anchor="start" fill="#111" font-family='"Liberation Sans", sans-serif' style="white-space:pre">TP7</text>
<text x="938.5" y="757.91" font-size="8.2" text-anchor="start" fill="#111" font-family='"Liberation Sans", sans-serif' style="white-space:pre">BODE2</text>
<rect x="978.05" y="776.3" width="10.7" height="3.2" fill="#fdfdfd"/>
<polyline points="977.65,777.9 979.03,775.8 980.85,780 982.66,775.8 984.48,780 986.3,775.8 988.12,780 989.15,777.9" fill="none" stroke="#1a1a1a" stroke-width="0.9" stroke-linejoin="round"/>
<text x="974" y="773.41" font-size="8.2" text-anchor="start" fill="#111" font-family='"Liberation Sans", sans-serif' style="white-space:pre">R19</text>
<text x="973.5" y="788.41" font-size="8.2" text-anchor="start" fill="#111" font-family='"Liberation Sans", sans-serif' style="white-space:pre">48.7</text>
<line x1="1020.7" y1="765" x2="1020.7" y2="777.9" stroke="#1a1a1a" stroke-width="1"/>
<circle cx="1020.7" cy="765" r="3.5" fill="#fdfdfd" stroke="#1a1a1a" stroke-width="1"/>
<circle cx="1020.7" cy="777.9" r="3" fill="#1a1a1a"/>
<text x="1011.5" y="748.91" font-size="8.2" text-anchor="start" fill="#111" font-family='"Liberation Sans", sans-serif' style="white-space:pre">TP8</text>
<text x="1011.5" y="757.91" font-size="8.2" text-anchor="start" fill="#111" font-family='"Liberation Sans", sans-serif' style="white-space:pre">BODE1</text>
<polygon points="1122,777.9 1158.8,759.4 1158.8,796.4" fill="none" stroke="#1a1a1a" stroke-width="1.1"/>
<line x1="1149.2" y1="768.5" x2="1155.2" y2="768.5" stroke="#1a1a1a" stroke-width="1"/>
<line x1="1152.2" y1="765.5" x2="1152.2" y2="771.5" stroke="#1a1a1a" stroke-width="1"/>
<line x1="1149.2" y1="787" x2="1155.2" y2="787" stroke="#1a1a1a" stroke-width="1"/>
<polygon points="1115.8,777.8 1122,775.8 1122,779.8" fill="#fdfdfd" stroke="#1a1a1a" stroke-width="0.9"/>
<text x="1110" y="776.91" font-size="6.8" text-anchor="middle" fill="#111" font-family='"Liberation Sans", sans-serif' style="white-space:pre">6</text>
<polyline points="1164.6,768.5 1195.2,768.5 1195.2,677" fill="none" stroke="#1a1a1a" stroke-width="1" stroke-linejoin="miter"/>
<polyline points="1164.6,787 1241,787 1241,677" fill="none" stroke="#1a1a1a" stroke-width="1" stroke-linejoin="miter"/>
<polygon points="1158.8,768.5 1164.6,766.5 1164.6,770.5" fill="#fdfdfd" stroke="#1a1a1a" stroke-width="0.9"/>
<polygon points="1158.8,787 1164.6,785 1164.6,789" fill="#fdfdfd" stroke="#1a1a1a" stroke-width="0.9"/>
<text x="1169" y="767.41" font-size="6.8" text-anchor="middle" fill="#111" font-family='"Liberation Sans", sans-serif' style="white-space:pre">4</text>
<text x="1169" y="785.91" font-size="6.8" text-anchor="middle" fill="#111" font-family='"Liberation Sans", sans-serif' style="white-space:pre">5</text>
<line x1="1190.3" y1="677" x2="1200.1" y2="677" stroke="#1a1a1a" stroke-width="1"/>
<text x="1195.2" y="675.05" font-size="8.8" text-anchor="middle" fill="#2a2a2a" font-family='"Liberation Serif", serif' style="white-space:pre" textLength="22.77" lengthAdjust="spacingAndGlyphs">VOUT</text>
<line x1="1236.1" y1="677" x2="1245.9" y2="677" stroke="#1a1a1a" stroke-width="1"/>
<text x="1241" y="675.05" font-size="8.8" text-anchor="middle" fill="#2a2a2a" font-family='"Liberation Serif", serif' style="white-space:pre" textLength="26.87" lengthAdjust="spacingAndGlyphs">VOUT1</text>
<text x="1178.5" y="757.41" font-size="8.2" text-anchor="start" fill="#111" font-family='"Liberation Sans", sans-serif' style="white-space:pre">U2</text>
<text x="1178.5" y="766.41" font-size="8.2" text-anchor="start" fill="#111" font-family='"Liberation Sans", sans-serif' style="white-space:pre">INA199A1DCKR</text>
<polyline points="1140.3,768 1140.3,741 1085,741 1085,750" fill="none" stroke="#1a1a1a" stroke-width="1" stroke-linejoin="miter"/>
<line x1="1085" y1="750" x2="1085" y2="751" stroke="#1a1a1a" stroke-width="1"/>
<polygon points="1075.5,750.9 1094.5,750.9 1085,760.1" fill="none" stroke="#1a1a1a" stroke-width="1"/>
<text x="1085" y="766.93" font-size="8.25" text-anchor="middle" fill="#2a2a2a" font-family='"Liberation Serif", serif' style="white-space:pre">SGND2</text>
<text x="1136.5" y="749.91" font-size="6.8" text-anchor="middle" fill="#111" font-family='"Liberation Sans", sans-serif' style="white-space:pre" transform="rotate(-90 1136.5 747.5)">2</text>
<polyline points="1115.8,796.4 1057.4,796.4 1057.4,915.2" fill="none" stroke="#1a1a1a" stroke-width="1" stroke-linejoin="miter"/>
<line x1="1122.3" y1="796.4" x2="1131.1" y2="782.4" stroke="#1a1a1a" stroke-width="1"/>
<polygon points="1122.5,796.4 1115.8,794.4 1115.8,798.4" fill="#fdfdfd" stroke="#1a1a1a" stroke-width="0.9"/>
<text x="1110" y="794.41" font-size="6.8" text-anchor="middle" fill="#111" font-family='"Liberation Sans", sans-serif' style="white-space:pre">1</text>
<line x1="1140.3" y1="788" x2="1140.3" y2="860.3" stroke="#1a1a1a" stroke-width="1"/>
<circle cx="1140.3" cy="823.4" r="3" fill="#1a1a1a"/>
<polyline points="1140.3,823.4 1176.7,823.4 1176.7,814.4" fill="none" stroke="#1a1a1a" stroke-width="1" stroke-linejoin="miter"/>
<line x1="1171.8" y1="814.4" x2="1181.6" y2="814.4" stroke="#1a1a1a" stroke-width="1"/>
<text x="1176.7" y="812.45" font-size="8.8" text-anchor="middle" fill="#2a2a2a" font-family='"Liberation Serif", serif' style="white-space:pre" textLength="16.01" lengthAdjust="spacingAndGlyphs">Bat+</text>
<text x="1136.5" y="810.91" font-size="6.8" text-anchor="middle" fill="#111" font-family='"Liberation Sans", sans-serif' style="white-space:pre" transform="rotate(-90 1136.5 808.5)">3</text>
<rect x="1138.8" y="836.8" width="3" height="2.4" fill="#fdfdfd"/>
<line x1="1132.8" y1="836.2" x2="1147.8" y2="836.2" stroke="#1a1a1a" stroke-width="1.1"/>
<line x1="1132.8" y1="839.8" x2="1147.8" y2="839.8" stroke="#1a1a1a" stroke-width="1.1"/>
<text x="1148" y="838.91" font-size="8.2" text-anchor="start" fill="#111" font-family='"Liberation Sans", sans-serif' style="white-space:pre">C25</text>
<text x="1148" y="847.91" font-size="8.2" text-anchor="start" fill="#111" font-family='"Liberation Sans", sans-serif' style="white-space:pre">0.22μF</text>
<line x1="1140.3" y1="860.3" x2="1140.3" y2="861.3" stroke="#1a1a1a" stroke-width="1"/>
<polygon points="1130.8,861.2 1149.8,861.2 1140.3,870.4" fill="none" stroke="#1a1a1a" stroke-width="1"/>
<text x="1140.3" y="877.43" font-size="8.25" text-anchor="middle" fill="#2a2a2a" font-family='"Liberation Serif", serif' style="white-space:pre">SGND2</text>
<circle cx="928.6" cy="883.7" r="3.6" fill="#5a5a5a" stroke="#333" stroke-width="0.8"/>
<polyline points="928.6,883.7 928.6,896.7 1048.3,896.7 1048.3,915.2" fill="none" stroke="#1a1a1a" stroke-width="1" stroke-linejoin="miter"/>
<text x="919.5" y="867.91" font-size="8.2" text-anchor="start" fill="#111" font-family='"Liberation Sans", sans-serif' style="white-space:pre">TP10</text>
<text x="919.5" y="876.91" font-size="8.2" text-anchor="start" fill="#111" font-family='"Liberation Sans", sans-serif' style="white-space:pre">Analog_Dim</text>
<rect x="951.05" y="895.1" width="10.7" height="3.2" fill="#fdfdfd"/>
<polyline points="950.65,896.7 952.03,894.6 953.85,898.8 955.66,894.6 957.48,898.8 959.3,894.6 961.12,898.8 962.15,896.7" fill="none" stroke="#1a1a1a" stroke-width="0.9" stroke-linejoin="round"/>
<text x="946.5" y="891.91" font-size="8.2" text-anchor="start" fill="#111" font-family='"Liberation Sans", sans-serif' style="white-space:pre">R21</text>
<text x="946.5" y="906.91" font-size="8.2" text-anchor="start" fill="#111" font-family='"Liberation Sans", sans-serif' style="white-space:pre">10.0k</text>
<circle cx="984" cy="896.7" r="3" fill="#1a1a1a"/>
<line x1="984" y1="896.7" x2="984" y2="933" stroke="#1a1a1a" stroke-width="1"/>
<rect x="982.5" y="908.8" width="3" height="2.4" fill="#fdfdfd"/>
<line x1="976.5" y1="908.2" x2="991.5" y2="908.2" stroke="#1a1a1a" stroke-width="1.1"/>
<line x1="976.5" y1="911.8" x2="991.5" y2="911.8" stroke="#1a1a1a" stroke-width="1.1"/>
<text x="992.5" y="912.41" font-size="8.2" text-anchor="start" fill="#111" font-family='"Liberation Sans", sans-serif' style="white-space:pre">C26</text>
<text x="992.5" y="921.41" font-size="8.2" text-anchor="start" fill="#111" font-family='"Liberation Sans", sans-serif' style="white-space:pre">4.7μF</text>
<line x1="984" y1="932.5" x2="984" y2="933.5" stroke="#1a1a1a" stroke-width="1"/>
<polygon points="974.5,933.4 993.5,933.4 984,942.6" fill="none" stroke="#1a1a1a" stroke-width="1"/>
<text x="984" y="949.93" font-size="8.25" text-anchor="middle" fill="#2a2a2a" font-family='"Liberation Serif", serif' style="white-space:pre">SGND2</text>
<rect x="1038.8" y="915.2" width="36.2" height="17.6" fill="none" stroke="#1a1a1a" stroke-width="1.1"/>
<circle cx="1048.3" cy="924.3" r="3" fill="#1a1a1a"/>
<line x1="1048.3" y1="915.2" x2="1048.3" y2="924.3" stroke="#1a1a1a" stroke-width="1"/>
<circle cx="1057.4" cy="924.3" r="3" fill="#1a1a1a"/>
<line x1="1057.4" y1="915.2" x2="1057.4" y2="924.3" stroke="#1a1a1a" stroke-width="1"/>
<circle cx="1066.7" cy="924.3" r="3" fill="#1a1a1a"/>
<line x1="1066.7" y1="915.2" x2="1066.7" y2="924.3" stroke="#1a1a1a" stroke-width="1"/>
<polyline points="1066.7,915.2 1066.7,896.7 1094.3,896.7 1094.3,905.8" fill="none" stroke="#1a1a1a" stroke-width="1" stroke-linejoin="miter"/>
<line x1="1094.3" y1="905.8" x2="1094.3" y2="906.8" stroke="#1a1a1a" stroke-width="1"/>
<polygon points="1084.8,906.7 1103.8,906.7 1094.3,915.9" fill="none" stroke="#1a1a1a" stroke-width="1"/>
<text x="1094.3" y="923.93" font-size="8.25" text-anchor="middle" fill="#2a2a2a" font-family='"Liberation Serif", serif' style="white-space:pre">SGND2</text>
<text x="1045.3" y="906.91" font-size="6.8" text-anchor="middle" fill="#111" font-family='"Liberation Sans", sans-serif' style="white-space:pre" transform="rotate(-90 1045.3 904.5)">3</text>
<text x="1054.3" y="906.91" font-size="6.8" text-anchor="middle" fill="#111" font-family='"Liberation Sans", sans-serif' style="white-space:pre" transform="rotate(-90 1054.3 904.5)">2</text>
<text x="1063.5" y="906.91" font-size="6.8" text-anchor="middle" fill="#111" font-family='"Liberation Sans", sans-serif' style="white-space:pre" transform="rotate(-90 1063.5 904.5)">1</text>
<text x="1039.2" y="949.91" font-size="8.2" text-anchor="start" fill="#111" font-family='"Liberation Sans", sans-serif' style="white-space:pre">J5</text>
<circle cx="932.3" cy="932.8" r="3.6" fill="#1a1a1a"/>
<polyline points="932.3,932.8 919.7,932.8 919.7,942" fill="none" stroke="#1a1a1a" stroke-width="1" stroke-linejoin="miter"/>
<line x1="919.7" y1="942" x2="919.7" y2="943" stroke="#1a1a1a" stroke-width="1"/>
<polygon points="910.2,942.9 929.2,942.9 919.7,952.1" fill="none" stroke="#1a1a1a" stroke-width="1"/>
<text x="919.7" y="959.93" font-size="8.25" text-anchor="middle" fill="#2a2a2a" font-family='"Liberation Serif", serif' style="white-space:pre">SGND2</text>
<text x="938.5" y="931.91" font-size="8.2" text-anchor="start" fill="#111" font-family='"Liberation Sans", sans-serif' style="white-space:pre">TP9</text>
<text x="938.5" y="941.21" font-size="8.2" text-anchor="start" fill="#111" font-family='"Liberation Sans", sans-serif' style="white-space:pre">AGND</text>
<rect x="379.3" y="970.5" width="687.5" height="26.7" fill="#fdfdfd" stroke="#1a1a1a" stroke-width="1.1"/>
<text x="383.5" y="978.35" font-size="8.59" text-anchor="start" fill="#111" font-family='"Liberation Sans", sans-serif' style="white-space:pre">Texas Instruments and/or its licensors do not warrant the accuracy or completeness of this specification or any information contained therein. Texas Instruments and/or its licensors do not</text>
<text x="383.5" y="987.35" font-size="8.59" text-anchor="start" fill="#111" font-family='"Liberation Sans", sans-serif' style="white-space:pre">warrant that this design will meet the specifications, will be suitable for your application or fit for any particular purpose, or will operate in an implementation. Texas Instruments and/or its</text>
<text x="383.5" y="996.25" font-size="8.59" text-anchor="start" fill="#111" font-family='"Liberation Sans", sans-serif' style="white-space:pre">licensors do not warrant that the design is production worthy. You should completely validate and test your design implementation to confirm the system functionality for your applic</text>
<rect x="1066.8" y="961.5" width="137.8" height="35.8" fill="none" stroke="#1a1a1a" stroke-width="1.1"/>
<line x1="1066.8" y1="970.2" x2="1204.6" y2="970.2" stroke="#1a1a1a" stroke-width="1.1"/>
<line x1="1066.8" y1="979.4" x2="1204.6" y2="979.4" stroke="#1a1a1a" stroke-width="1.1"/>
<line x1="1066.8" y1="988.6" x2="1204.6" y2="988.6" stroke="#1a1a1a" stroke-width="1.1"/>
<line x1="1158.6" y1="961.5" x2="1158.6" y2="970.2" stroke="#1a1a1a" stroke-width="1.1"/>
<text x="1069.5" y="969.08" font-size="8.4" text-anchor="start" fill="#111" font-family='"Liberation Sans", sans-serif' style="white-space:pre">Number: TIDA-00748</text>
<text x="1161" y="969.08" font-size="8.4" text-anchor="start" fill="#111" font-family='"Liberation Sans", sans-serif' style="white-space:pre">Rev:   E1</text>
<text x="1069.5" y="977.98" font-size="8.4" text-anchor="start" fill="#111" font-family='"Liberation Sans", sans-serif' style="white-space:pre">SVN Rev:   Version control disabled</text>
<text x="1069.5" y="986.98" font-size="8.4" text-anchor="start" fill="#111" font-family='"Liberation Sans", sans-serif' style="white-space:pre">Drawn By:</text>
<text x="1069.5" y="996.18" font-size="8.4" text-anchor="start" fill="#111" font-family='"Liberation Sans", sans-serif' style="white-space:pre">Engineer: Ambreesh Tripathi</text>
<rect x="1204.6" y="943" width="338.9" height="54.3" fill="none" stroke="#1a1a1a" stroke-width="1.1"/>
<line x1="1442.2" y1="943" x2="1442.2" y2="988.3" stroke="#1a1a1a" stroke-width="1.1"/>
<line x1="1204.6" y1="952.4" x2="1442.2" y2="952.4" stroke="#1a1a1a" stroke-width="1.1"/>
<line x1="1204.6" y1="961.4" x2="1442.2" y2="961.4" stroke="#1a1a1a" stroke-width="1.1"/>
<line x1="1204.6" y1="970.1" x2="1442.2" y2="970.1" stroke="#1a1a1a" stroke-width="1.1"/>
<line x1="1204.6" y1="979.1" x2="1442.2" y2="979.1" stroke="#1a1a1a" stroke-width="1.1"/>
<line x1="1204.6" y1="988.3" x2="1543.5" y2="988.3" stroke="#1a1a1a" stroke-width="1.1"/>
<line x1="1351.3" y1="943" x2="1351.3" y2="952.4" stroke="#1a1a1a" stroke-width="1.1"/>
<line x1="1378.9" y1="970.1" x2="1378.9" y2="979.1" stroke="#1a1a1a" stroke-width="1.1"/>
<line x1="1397.1" y1="979.1" x2="1397.1" y2="988.3" stroke="#1a1a1a" stroke-width="1.1"/>
<text x="1207.7" y="950.18" font-size="8.4" text-anchor="start" fill="#111" font-family='"Liberation Sans", sans-serif' style="white-space:pre">Designed for:Public Release</text>
<text x="1353.5" y="950.18" font-size="8.4" text-anchor="start" fill="#111" font-family='"Liberation Sans", sans-serif' style="white-space:pre">Mod. Date: 12/9/2015</text>
<text x="1207.7" y="960.08" font-size="8.4" text-anchor="start" fill="#111" font-family='"Liberation Sans", sans-serif' style="white-space:pre">Project Title:60W Synchronous LED Driver</text>
<text x="1207.7" y="969.08" font-size="8.4" text-anchor="start" fill="#111" font-family='"Liberation Sans", sans-serif' style="white-space:pre">Sheet Title:</text>
<text x="1207.7" y="977.98" font-size="8.4" text-anchor="start" fill="#111" font-family='"Liberation Sans", sans-serif' style="white-space:pre">Assembly Variant:[No Variations]</text>
<text x="1381.7" y="977.98" font-size="8.4" text-anchor="start" fill="#111" font-family='"Liberation Sans", sans-serif' style="white-space:pre">Sheet:1   of  2</text>
<text x="1207.7" y="986.98" font-size="8.4" text-anchor="start" fill="#111" font-family='"Liberation Sans", sans-serif' style="white-space:pre">File: TIDA-00748.SchDoc</text>
<text x="1399.4" y="986.98" font-size="8.4" text-anchor="start" fill="#111" font-family='"Liberation Sans", sans-serif' style="white-space:pre">Size: B</text>
<text x="1207.7" y="996.18" font-size="8.4" text-anchor="start" fill="#111" font-family='"Liberation Sans", sans-serif' style="white-space:pre">Contact: http://www.ti.com/support</text>
<text x="1492.5" y="987.28" font-size="8.4" text-anchor="middle" fill="#111" font-family='"Liberation Sans", sans-serif' style="white-space:pre">http://www.ti.com</text>
<text x="1491.3" y="996.29" font-size="7.3" text-anchor="middle" fill="#111" font-family='"Liberation Sans", sans-serif' style="white-space:pre">© Texas Instruments 2015</text>
<path d="M1455.2,951.7 L1459.7,951.7 L1459.9,954.8 L1461.5,955.6 L1464.1,955.2 L1467.7,955.5 L1468,958.7 L1468.9,960.3 L1468.6,963.5 L1466,964.1 L1463.8,966.7 L1463.2,969.2 L1461.3,969.9 L1459.7,968.6 L1457.8,964.8 L1456.5,963.8 L1454.6,964.5 L1453,963.5 L1452,961.3 L1450.1,959.4 L1455.2,958.7 Z" fill="#000"/>
<path d="M1462.3,955.3 L1460.6,963" stroke="#fdfdfd" stroke-width="1.2" fill="none"/>
<path d="M1458.8,963.6 Q1461,965.6 1463.8,963.9" stroke="#fdfdfd" stroke-width="1.1" fill="none"/>
<path d="M1459.3,958.3 L1462,958.3" stroke="#fdfdfd" stroke-width="0.9" fill="none"/>
<circle cx="1463" cy="953.2" r="0.9" fill="#000"/>
<text x="1471.3" y="963.22" font-size="11.6" text-anchor="start" fill="#111" font-family='"Liberation Serif", serif' style="white-space:pre" textLength="6.9" lengthAdjust="spacingAndGlyphs">T</text>
<text x="1478.3" y="963.17" font-size="9.2" text-anchor="start" fill="#111" font-family='"Liberation Serif", serif' style="white-space:pre" textLength="21.6" lengthAdjust="spacingAndGlyphs">EXAS</text>
<text x="1473.8" y="973.12" font-size="13" text-anchor="start" fill="#111" font-family='"Liberation Serif", serif' style="white-space:pre" textLength="2.6" lengthAdjust="spacingAndGlyphs">I</text>
<text x="1476.5" y="973.05" font-size="10" text-anchor="start" fill="#111" font-family='"Liberation Serif", serif' style="white-space:pre" textLength="60.2" lengthAdjust="spacingAndGlyphs">NSTRUMENTS</text>
<text x="68.3" y="95.6" font-size="15.5" text-anchor="start" fill="#4a4a4a" font-family='"Liberation Sans", sans-serif' style="white-space:pre" textLength="129.2" lengthAdjust="spacingAndGlyphs">Vin = 8V to 20V DC</text>
<text x="1281.5" y="85.8" font-size="15.5" text-anchor="start" fill="#4a4a4a" font-family='"Liberation Sans", sans-serif' style="white-space:pre" textLength="102.5" lengthAdjust="spacingAndGlyphs">3-4 LEDs @ 3A</text></svg></body></html>
